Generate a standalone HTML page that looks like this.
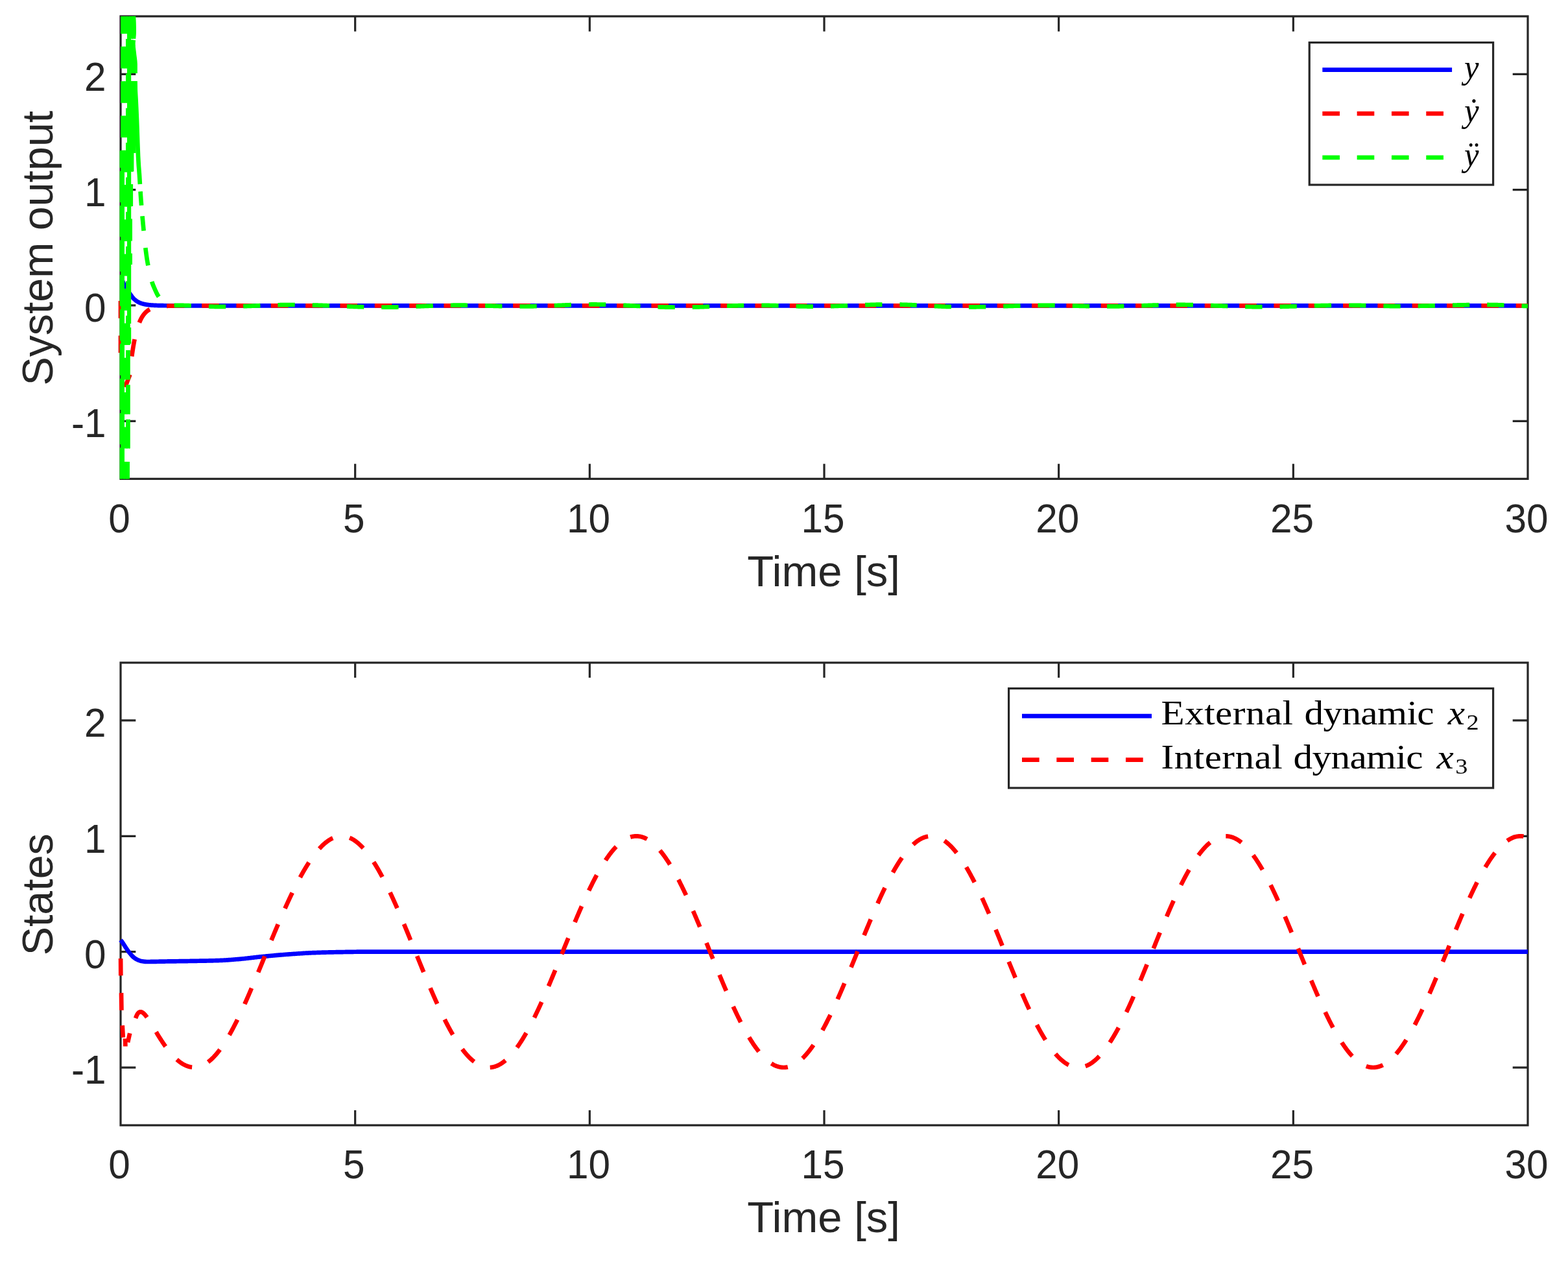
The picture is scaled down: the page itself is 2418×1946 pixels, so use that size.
<!DOCTYPE html>
<html lang="en"><head><meta charset="utf-8"><title>System output and states</title>
<style>html,body{margin:0;padding:0;background:#fff;}body{width:2418px;height:1946px;}svg{display:block;}text{font-family:"Liberation Sans",sans-serif;fill:#262626;}.tk{font-size:62.3px;}.lb{font-size:67px;}.yl{font-size:66.3px;}.lg{font-family:"Liberation Serif",serif;fill:#000;}.ax{fill:none;stroke:#262626;stroke-width:3.20;}.cv{fill:none;stroke-width:6.70;stroke-linejoin:round;}.b{stroke:#0000ff;}.r{stroke:#ff0000;}.g{stroke:#00ff00;}</style></head><body>
<svg width="2418" height="1946" viewBox="0 0 2418 1946" role="img" aria-label="System output and states versus time">
<rect x="0" y="0" width="2418" height="1946" fill="#fff"/>
<path class="ax" d="M186.00,25.15 H2356.00 V738.45 H186.00 Z M547.67,738.45 v-23.30 M547.67,25.15 v23.30 M909.33,738.45 v-23.30 M909.33,25.15 v23.30 M1271.00,738.45 v-23.30 M1271.00,25.15 v23.30 M1632.67,738.45 v-23.30 M1632.67,25.15 v23.30 M1994.33,738.45 v-23.30 M1994.33,25.15 v23.30 M186.00,649.29 h23.30 M2356.00,649.29 h-23.30 M186.00,470.96 h23.30 M2356.00,470.96 h-23.30 M186.00,292.64 h23.30 M2356.00,292.64 h-23.30 M186.00,114.31 h23.30 M2356.00,114.31 h-23.30"/>
<path class="ax" d="M186.00,1021.80 H2356.00 V1735.20 H186.00 Z M547.67,1735.20 v-23.30 M547.67,1021.80 v23.30 M909.33,1735.20 v-23.30 M909.33,1021.80 v23.30 M1271.00,1735.20 v-23.30 M1271.00,1021.80 v23.30 M1632.67,1735.20 v-23.30 M1632.67,1021.80 v23.30 M1994.33,1735.20 v-23.30 M1994.33,1021.80 v23.30 M186.00,1646.03 h23.30 M2356.00,1646.03 h-23.30 M186.00,1467.67 h23.30 M2356.00,1467.67 h-23.30 M186.00,1289.33 h23.30 M2356.00,1289.33 h-23.30 M186.00,1110.97 h23.30 M2356.00,1110.97 h-23.30"/>
<path class="cv b" d="M187.68,429.68 L188.23,431.18 L188.79,432.64 L189.35,434.05 L189.91,435.43 L190.47,436.74 L191.03,438.01 L191.59,439.21 L192.15,440.34 L192.70,441.41 L193.26,442.44 L193.82,443.42 L194.38,444.38 L194.94,445.30 L195.50,446.19 L196.06,447.06 L196.62,447.90 L197.17,448.72 L197.73,449.52 L198.29,450.31 L198.85,451.07 L199.41,451.83 L199.97,452.57 L200.53,453.31 L201.09,454.04 L201.64,454.77 L202.20,455.49 L202.63,456.12 L203.06,456.73 L203.49,457.32 L203.92,457.88 L204.35,458.41 L204.78,458.93 L205.21,459.42 L205.64,459.90 L206.07,460.36 L206.50,460.80 L206.93,461.22 L207.36,461.62 L207.79,462.01 L208.22,462.38 L208.65,462.74 L209.08,463.08 L209.51,463.41 L209.94,463.73 L210.37,464.04 L210.80,464.33 L211.23,464.61 L211.65,464.88 L212.08,465.14 L212.51,465.38 L212.94,465.62 L213.37,465.85 L213.80,466.07 L214.23,466.28 L214.66,466.48 L215.09,466.68 L215.52,466.87 L215.95,467.05 L216.38,467.22 L216.81,467.38 L217.24,467.54 L217.67,467.69 L218.10,467.84 L218.53,467.98 L218.96,468.12 L219.39,468.24 L219.82,468.37 L220.25,468.49 L220.68,468.60 L221.11,468.71 L221.54,468.82 L221.97,468.92 L222.40,469.02 L222.83,469.11 L223.26,469.20 L223.68,469.29 L224.11,469.37 L224.54,469.45 L224.97,469.53 L225.40,469.60 L225.83,469.67 L226.26,469.74 L226.69,469.80 L227.12,469.86 L227.55,469.92 L227.98,469.98 L228.41,470.04 L228.84,470.09 L229.27,470.14 L229.70,470.19 L230.13,470.23 L230.56,470.28 L230.99,470.32 L231.42,470.36 L231.85,470.40 L232.28,470.44 L232.71,470.48 L233.14,470.51 L233.57,470.55 L234.00,470.58 L234.43,470.61 L234.86,470.64 L235.29,470.67 L235.72,470.70 L236.14,470.72 L236.57,470.75 L237.00,470.77 L237.43,470.80 L237.86,470.82 L238.29,470.84 L238.72,470.86 L239.15,470.88 L239.58,470.90 L240.01,470.92 L240.44,470.94 L240.87,470.95 L241.30,470.97 L241.73,470.99 L242.16,471.00 L242.59,471.02 L243.02,471.03 L243.45,471.04 L243.88,471.06 L244.31,471.07 L244.74,471.08 L245.17,471.09 L245.60,471.10 L246.03,471.11 L246.46,471.12 L246.89,471.13 L247.32,471.14 L247.75,471.15 L248.17,471.16 L248.60,471.17 L249.03,471.17 L249.46,471.18 L249.89,471.19 L250.32,471.20 L250.75,471.20 L251.18,471.21 L251.61,471.22 L252.04,471.22 L252.47,471.23 L252.90,471.23 L253.33,471.24 L253.76,471.24 L254.19,471.25 L254.62,471.25 L255.05,471.26 L255.48,471.26 L255.91,471.26 L256.34,471.27 L256.77,471.27 L257.20,471.28 L257.63,471.28 L258.06,471.28 L258.49,471.29 L258.92,471.29 L259.35,471.29 L259.78,471.29 L260.20,471.30 L260.63,471.30 L261.06,471.30 L261.49,471.30 L261.92,471.31 L262.35,471.31 L262.78,471.31 L263.21,471.31 L263.64,471.32 L264.07,471.32 L264.50,471.32 L264.93,471.32 L265.36,471.32 L265.79,471.32 L266.22,471.33 L266.65,471.33 L267.08,471.33 L267.51,471.33 L267.94,471.33 L268.37,471.33 L268.80,471.33 L269.23,471.33 L269.66,471.34 L270.09,471.34 L270.52,471.34 L270.95,471.34 L271.38,471.34 L271.81,471.34 L272.23,471.34 L272.66,471.34 L273.09,471.34 L273.52,471.34 L273.95,471.34 L274.38,471.35 L274.81,471.35 L275.24,471.35 L275.67,471.35 L276.10,471.35 L276.53,471.35 L276.96,471.35 L277.39,471.35 L277.82,471.35 L278.25,471.35 L278.68,471.35 L279.11,471.35 L279.54,471.35 L279.97,471.35 L280.40,471.35 L280.83,471.35 L281.26,471.35 L281.69,471.35 L282.12,471.35 L282.55,471.35 L282.98,471.35 L283.41,471.36 L283.84,471.36 L284.26,471.36 L284.69,471.36 L285.12,471.36 L285.55,471.36 L285.98,471.36 L286.41,471.36 L286.84,471.36 L287.27,471.36 L287.70,471.36 L288.13,471.36 L288.56,471.36 L288.99,471.36 L289.42,471.36 L289.85,471.36 L290.28,471.36 L290.71,471.36 L291.14,471.36 L291.57,471.36 L292.00,471.36 L292.43,471.36 L292.86,471.36 L293.29,471.36 L293.72,471.36 L294.15,471.36 L294.58,471.36 L295.01,471.36 L295.44,471.36 L295.87,471.36 L296.30,471.36 L296.72,471.36 L297.15,471.36 L297.58,471.36 L298.01,471.36 L298.44,471.36 L298.87,471.36 L299.30,471.36 L299.73,471.36 L300.16,471.36 L300.59,471.36 L301.02,471.36 L301.45,471.36 L301.88,471.36 L302.31,471.36 L302.74,471.36 L303.17,471.36 L303.60,471.36 L304.03,471.36 L304.46,471.36 L304.89,471.36 L305.32,471.36 L305.75,471.36 L306.18,471.36 L306.61,471.36 L307.04,471.36 L307.47,471.36 L307.90,471.36 L308.33,471.36 L308.75,471.36 L309.18,471.36 L309.61,471.36 L310.04,471.36 L310.47,471.36 L310.90,471.36 L311.33,471.36 L311.76,471.36 L312.19,471.36 L312.62,471.36 L313.05,471.36 L313.48,471.36 L313.91,471.36 L314.34,471.36 L314.77,471.36 L315.20,471.36 L315.63,471.36 L316.06,471.36 L316.49,471.36 L316.92,471.36 L317.35,471.36 L317.78,471.36 L318.21,471.36 L318.64,471.36 L319.07,471.36 L319.50,471.36 L319.93,471.36 L320.36,471.36 L320.78,471.36 L321.21,471.36 L321.64,471.36 L322.07,471.36 L322.50,471.36 L322.93,471.36 L323.36,471.36 L323.79,471.36 L324.22,471.36 L324.65,471.36 L325.08,471.36 L325.51,471.36 L325.94,471.36 L326.37,471.36 L326.80,471.36 L327.23,471.36 L327.66,471.36 L328.09,471.36 L328.52,471.36 L328.95,471.36 L329.38,471.36 L329.81,471.36 L330.24,471.36 L330.67,471.36 L2356.00,471.36"/>
<path class="cv r" d="M186,464.1 V490.75 M186,517.4 V544.05"/>
<path class="cv r" d="M193,597 L200.4,577.5"/>
<path class="cv r" stroke-dasharray="26.665 26.665" d="M203.29,549.43 L203.61,547.10 L203.93,544.85 L204.25,542.66 L204.56,540.54 L204.88,538.48 L205.20,536.48 L205.52,534.54 L205.84,532.66 L206.16,530.83 L206.48,529.06 L206.80,527.34 L207.12,525.68 L207.44,524.06 L207.76,522.49 L208.08,520.97 L208.40,519.49 L208.71,518.06 L209.03,516.67 L209.35,515.32 L209.67,514.01 L209.99,512.74 L210.31,511.51 L210.63,510.31 L210.95,509.15 L211.27,508.03 L211.59,506.94 L211.91,505.88 L212.23,504.85 L212.55,503.85 L212.87,502.88 L213.18,501.95 L213.50,501.03 L213.82,500.15 L214.14,499.29 L214.46,498.46 L214.78,497.65 L215.10,496.87 L215.42,496.11 L215.74,495.38 L216.06,494.66 L216.38,493.97 L216.70,493.29 L217.02,492.64 L217.33,492.01 L217.65,491.39 L217.97,490.80 L218.29,490.22 L218.61,489.66 L218.93,489.11 L219.25,488.58 L219.57,488.07 L219.89,487.57 L220.21,487.09 L220.53,486.62 L220.85,486.17 L221.17,485.73 L221.48,485.30 L221.80,484.88 L222.12,484.48 L222.44,484.09 L222.76,483.71 L223.08,483.34 L223.40,482.99 L223.72,482.64 L224.04,482.30 L224.36,481.98 L224.68,481.66 L225.00,481.36 L225.32,481.06 L225.63,480.77 L225.95,480.49 L226.27,480.22 L226.59,479.95 L226.91,479.70 L227.23,479.45 L227.55,479.21 L227.87,478.98 L228.19,478.75 L228.51,478.53 L228.83,478.32 L229.15,478.11 L229.47,477.91 L229.79,477.71 L230.10,477.52 L230.42,477.34 L230.74,477.16 L231.06,476.99 L231.38,476.82 L231.70,476.66 L232.02,476.50 L232.34,476.35 L232.66,476.20 L232.98,476.06 L233.30,475.92 L233.62,475.78 L233.94,475.65 L234.25,475.52 L234.57,475.40 L234.89,475.28 L235.21,475.16 L235.53,475.05 L235.85,474.94 L236.17,474.83 L236.49,474.73 L236.81,474.63 L237.13,474.53 L237.45,474.44 L237.77,474.34 L238.09,474.26 L238.40,474.17 L238.72,474.09 L239.04,474.01 L239.36,473.93 L239.68,473.85 L240.00,473.78 L240.32,473.70 L240.64,473.63 L240.96,473.57 L241.28,473.50 L241.60,473.44 L241.92,473.38 L242.24,473.32 L242.55,473.26 L242.87,473.20 L243.19,473.15 L243.51,473.09 L243.83,473.04 L244.15,472.99 L244.47,472.94 L244.79,472.90 L245.11,472.85 L245.43,472.81 L245.75,472.76 L246.07,472.72 L246.39,472.68 L246.71,472.64 L247.02,472.60 L247.34,472.57 L247.66,472.53 L247.98,472.50 L248.30,472.46 L248.62,472.43 L248.94,472.40 L249.26,472.37 L249.58,472.34 L249.90,472.31 L250.22,472.28 L250.54,472.25 L250.86,472.23 L251.17,472.20 L251.49,472.18 L251.81,472.15 L252.13,472.13 L252.45,472.10 L252.77,472.08 L253.09,472.06 L253.41,472.04 L253.73,472.02 L254.05,472.00 L254.37,471.98 L254.69,471.96 L255.01,471.95 L255.32,471.93 L255.64,471.91 L255.96,471.89 L256.28,471.88 L256.60,471.86 L256.92,471.85 L257.24,471.83 L257.56,471.82 L257.80,471.81"/>
<path class="cv r" stroke-dasharray="26.665 26.665" d="M257.80,471.81 L257.88,471.81 L258.20,471.79 L258.52,471.78 L258.84,471.77 L259.16,471.76 L259.47,471.74 L259.79,471.73 L260.11,471.72 L260.43,471.71 L260.75,471.70 L261.07,471.69 L261.39,471.68 L261.71,471.67 L262.03,471.66 L262.35,471.65 L262.67,471.64 L262.99,471.64 L263.31,471.63 L263.63,471.62 L263.94,471.61 L264.26,471.61 L264.58,471.60 L264.90,471.59 L265.22,471.58 L265.54,471.58 L265.86,471.57 L266.18,471.56 L266.50,471.56 L266.82,471.55 L267.14,471.55 L267.46,471.54 L267.78,471.54 L268.09,471.53 L268.41,471.53 L268.73,471.52 L269.05,471.52 L269.37,471.51 L269.69,471.51 L270.01,471.50 L270.33,471.50 L270.65,471.50 L270.97,471.49 L271.29,471.49 L271.61,471.48 L271.93,471.48 L272.24,471.48 L272.56,471.47 L272.88,471.47 L273.20,471.47 L273.52,471.46 L273.84,471.46 L274.16,471.46 L274.48,471.45 L274.80,471.45 L275.12,471.45 L275.44,471.45 L275.76,471.44 L276.08,471.44 L276.39,471.44 L276.71,471.44 L277.03,471.43 L277.35,471.43 L277.67,471.43 L277.99,471.43 L278.31,471.43 L278.63,471.42 L278.95,471.42 L279.27,471.42 L279.59,471.42 L279.91,471.42 L280.23,471.42 L280.55,471.41 L280.86,471.41 L281.18,471.41 L281.50,471.41 L281.82,471.41 L282.14,471.41 L282.46,471.41 L282.78,471.40 L283.10,471.40 L283.42,471.40 L283.74,471.40 L284.06,471.40 L284.38,471.40 L284.70,471.40 L285.01,471.40 L285.33,471.40 L285.65,471.39 L285.97,471.39 L286.29,471.39 L286.61,471.39 L286.93,471.39 L287.25,471.39 L287.57,471.39 L287.89,471.39 L288.21,471.39 L288.53,471.39 L288.85,471.39 L289.16,471.39 L289.48,471.38 L289.80,471.38 L290.12,471.38 L290.44,471.38 L290.76,471.38 L291.08,471.38 L291.40,471.38 L291.72,471.38 L292.04,471.38 L292.36,471.38 L292.68,471.38 L293.00,471.38 L293.31,471.38 L293.63,471.38 L293.95,471.38 L294.27,471.38 L294.59,471.38 L294.91,471.38 L295.23,471.38 L295.55,471.38 L295.87,471.37 L296.19,471.37 L296.51,471.37 L296.83,471.37 L297.15,471.37 L297.47,471.37 L297.78,471.37 L298.10,471.37 L298.42,471.37 L298.74,471.37 L299.06,471.37 L299.38,471.37 L299.70,471.37 L300.02,471.37 L300.34,471.37 L300.66,471.37 L300.98,471.37 L301.30,471.37 L301.62,471.37 L301.93,471.37 L302.25,471.37 L302.57,471.37 L302.89,471.37 L303.21,471.37 L303.53,471.37 L303.85,471.37 L304.17,471.37 L304.49,471.37 L304.81,471.37 L305.13,471.37 L305.45,471.37 L305.77,471.37 L306.08,471.37 L306.40,471.37 L306.72,471.37 L307.04,471.37 L307.36,471.37 L307.68,471.37 L308.00,471.37 L308.32,471.37 L308.64,471.37 L308.96,471.37 L309.28,471.37 L309.60,471.37 L309.92,471.37 L310.23,471.37 L310.55,471.37 L310.87,471.37 L311.19,471.37 L311.51,471.37 L311.83,471.37 L312.15,471.37 L312.47,471.37 L312.79,471.36 L313.11,471.36 L313.43,471.36 L313.75,471.36 L314.07,471.36 L314.39,471.36 L314.70,471.36 L315.02,471.36 L315.34,471.36 L315.66,471.36 L315.98,471.36 L316.30,471.36 L316.62,471.36 L316.94,471.36 L317.26,471.36 L317.58,471.36 L317.90,471.36 L318.22,471.36 L318.54,471.36 L318.85,471.36 L319.17,471.36 L319.49,471.36 L319.81,471.36 L320.13,471.36 L320.45,471.36 L320.77,471.36 L321.09,471.36 L321.41,471.36 L321.73,471.36 L322.05,471.36 L322.37,471.36 L322.69,471.36 L323.00,471.36 L323.32,471.36 L323.64,471.36 L323.96,471.36 L324.28,471.36 L324.60,471.36 L324.92,471.36 L325.24,471.36 L325.56,471.36 L325.88,471.36 L326.20,471.36 L326.52,471.36 L326.84,471.36 L327.15,471.36 L327.47,471.36 L327.79,471.36 L328.11,471.36 L328.43,471.36 L328.75,471.36 L329.07,471.36 L329.39,471.36 L329.71,471.36 L330.03,471.36 L330.35,471.36 L330.67,471.36 L372.00,471.36 L413.33,471.36 L454.67,471.36 L496.00,471.36 L537.33,471.36 L578.67,471.36 L620.00,471.36 L661.33,471.36 L702.67,471.36 L744.00,471.36 L785.33,471.36 L826.67,471.36 L868.00,471.36 L909.33,471.36 L950.67,471.36 L992.00,471.36 L1033.33,471.36 L1074.67,471.36 L1116.00,471.36 L1157.33,471.36 L1198.67,471.36 L1240.00,471.36 L1281.33,471.36 L1322.67,471.36 L1364.00,471.36 L1405.33,471.36 L1446.67,471.36 L1488.00,471.36 L1529.33,471.36 L1570.67,471.36 L1612.00,471.36 L1653.33,471.36 L1694.67,471.36 L1736.00,471.36 L1777.33,471.36 L1818.67,471.36 L1860.00,471.36 L1901.33,471.36 L1942.67,471.36 L1984.00,471.36 L2025.33,471.36 L2066.67,471.36 L2108.00,471.36 L2149.33,471.36 L2190.67,471.36 L2232.00,471.36 L2273.33,471.36 L2314.67,471.36 L2356.00,471.36"/>
<path class="g" fill="none" stroke-width="2.40" stroke-dasharray="26.40 5.00 48.33 5.00 48.33 5.00 48.33 5.00 48.33 5.00 48.33 5.00 48.33 5.00 48.33 5.00 48.33 5.00 48.11 0.01" d="M185.80,232.30 V738.45"/>
<path class="g" fill="none" stroke-width="5.80" stroke-dasharray="26.95 19.70 33.63 19.70 33.63 19.70 33.63 19.70 506.66 0.01" d="M189.10,25.15 V738.45"/>
<path class="g" fill="none" stroke-width="4.00" stroke-dasharray="26.95 19.70 33.63 19.70 33.63 19.70 33.63 19.70 33.63 19.70 33.63 19.70 33.63 19.70 33.63 19.70 33.63 19.70 33.63 19.70 33.63 19.70 33.63 19.70 33.07 20.40 26.55 0.01" d="M193.00,25.15 V738.45"/>
<path class="g" fill="none" stroke-width="3.00" stroke-dasharray="26.95 8.00 45.33 8.00 45.33 8.00 45.33 8.00 45.33 8.00 45.33 8.00 45.33 8.00 45.33 8.00 45.33 8.00 45.33 8.00 45.33 8.00 45.33 8.00 44.77 20.40 26.55 0.01" d="M195.50,25.15 V738.45"/>
<path class="g" fill="none" stroke-width="4.00" stroke-dasharray="506.92 8.00 45.33 8.00 45.33 8.00 44.77 20.40 26.55 0.01" d="M198.00,25.15 V738.45"/>
<path class="g" fill="none" stroke-width="1.80" stroke-dasharray="506.92 8.00 45.33 8.00 45.33 8.00 44.77 20.40 0.10 0.01" d="M199.90,25.15 V712.00"/>
<path class="g" fill="none" stroke-width="2.20" stroke-dasharray="473.85 6.00 25.00 0.01" d="M201.10,25.15 V530.00"/>
<path class="g" fill="none" stroke-width="3.00" stroke-dasharray="34.55 2.10 51.20 12.00 139.82 19.30 34.03 19.30 34.03 19.30 17.22 0.01" d="M202.50,25.15 V408.00"/>
<path class="g" fill="none" stroke-width="2.10" stroke-dasharray="34.55 2.10 51.20 12.00 139.82 19.30 33.88 0.01" d="M204.05,25.15 V318.00"/>
<path class="g" fill="none" stroke-width="2.40" stroke-dasharray="34.55 2.10 51.20 12.00 139.50 0.01" d="M205.20,25.15 V264.50"/>
<path class="g" fill="none" stroke-width="3.60" d="M207.80,125.00 V236.00"/>
<path class="cv g" style="stroke-linejoin:miter" d="M205.80,25.00 L206.06,28.15 L206.25,31.31 L206.40,34.46 L206.49,37.62 L206.55,40.77 L206.58,43.93 L206.60,47.08 L206.60,50.24 L206.48,53.39 L206.21,56.55 L205.87,59.70 M205.66,61.80 L205.33,66.45 L205.42,71.11 L205.90,75.76 L206.51,80.42 L207.03,85.07 L207.63,89.73 L208.19,94.38 L208.49,99.04 L208.50,103.69 L208.50,108.35 L208.50,113.00 M208.50,125.00 L208.74,139.45 L209.58,153.91 L210.28,168.36 L210.91,182.82 L211.46,197.27 L211.93,211.73 L212.45,226.18 L213.03,240.64 L213.83,255.09 L214.97,269.55 L215.88,284.00 M216.56,295.30 L216.68,297.25 L216.80,299.19 L216.93,301.14 L217.06,303.08 L217.20,305.03 L217.34,306.97 L217.49,308.92 L217.64,310.86 L217.79,312.81 L217.94,314.75 L218.09,316.70 M219.51,333.30 L219.70,335.35 L219.89,337.41 L220.08,339.46 L220.27,341.52 L220.46,343.57 L220.65,345.63 L220.85,347.68 L221.04,349.74 L221.23,351.79 L221.42,353.85 L221.61,355.90 M224.31,382.10 L224.61,384.58 L224.92,387.06 L225.25,389.55 L225.58,392.03 L225.93,394.51 L226.29,396.99 L226.67,399.47 L227.07,401.95 L227.49,404.44 L227.92,406.92 L228.38,409.40 M234.24,434.30 L234.90,436.42 L235.66,438.54 L236.49,440.65 L237.38,442.77 L238.32,444.89 L239.28,447.01 L240.24,449.13 L241.21,451.25 L242.25,453.36 L243.44,455.48 L244.84,457.60"/>
<path class="cv g" stroke-dasharray="26.300 27.000" d="M268.60,470.97 L270.34,470.94 L272.08,470.92 L273.82,470.90 L275.56,470.90 L277.30,470.91 L279.05,470.92 L280.79,470.94 L282.53,470.97 L284.27,471.00 L286.01,471.04 L287.75,471.09 L289.49,471.14 L291.23,471.20 L292.97,471.26 L294.71,471.32 L296.46,471.39 L298.20,471.46 L299.94,471.53 L301.68,471.61 L303.42,471.68 L305.16,471.76 L306.90,471.84 L308.64,471.92 L310.38,472.00 L312.12,472.08 L313.86,472.16 L315.61,472.24 L317.35,472.31 L319.09,472.39 L320.83,472.46 L322.57,472.52 L324.31,472.59 L326.05,472.65 L327.79,472.70 L329.53,472.75 L331.27,472.80 L333.02,472.84 L334.76,472.87 L336.50,472.90 L338.24,472.92 L339.98,472.93 L341.72,472.94 L343.46,472.95 L345.20,472.94 L346.94,472.94 L348.68,472.93 L350.42,472.91 L352.17,472.89 L353.91,472.86 L355.65,472.83 L357.39,472.80 L359.13,472.76 L360.87,472.72 L362.61,472.67 L364.35,472.62 L366.09,472.57 L367.83,472.52 L369.58,472.46 L371.32,472.40 L373.06,472.34 L374.80,472.28 L376.54,472.21 L378.28,472.15 L380.02,472.08 L381.76,472.01 L383.50,471.94 L385.24,471.87 L386.98,471.80 L388.73,471.72 L390.47,471.65 L392.21,471.58 L393.95,471.51 L395.69,471.44 L397.43,471.36 L399.17,471.29 L400.91,471.22 L402.65,471.15 L404.39,471.08 L406.14,471.01 L407.88,470.95 L409.62,470.88 L411.36,470.82 L413.10,470.75 L414.84,470.69 L416.58,470.63 L418.32,470.57 L420.06,470.52 L421.80,470.46 L423.54,470.41 L425.29,470.36 L427.03,470.32 L428.77,470.28 L430.51,470.23 L432.25,470.20 L433.99,470.16 L435.73,470.13 L437.47,470.10 L439.21,470.08 L440.95,470.06 L442.70,470.04 L444.44,470.03 L446.18,470.02 L447.92,470.01 L449.66,470.01 L451.40,470.01 L453.14,470.01 L454.88,470.02 L456.62,470.03 L458.36,470.05 L460.10,470.06 L461.85,470.08 L463.59,470.10 L465.33,470.13 L467.07,470.16 L468.81,470.19 L470.55,470.22 L472.29,470.25 L474.03,470.29 L475.77,470.33 L477.51,470.37 L479.26,470.41 L481.00,470.46 L482.74,470.51 L484.48,470.56 L486.22,470.61 L487.96,470.66 L489.70,470.72 L491.44,470.77 L493.18,470.83 L494.92,470.89 L496.66,470.95 L498.41,471.01 L500.15,471.07 L501.89,471.14 L503.63,471.20 L505.37,471.27 L507.11,471.33 L508.85,471.40 L510.59,471.47 L512.33,471.54 L514.07,471.61 L515.82,471.67 L517.56,471.74 L519.30,471.81 L521.04,471.88 L522.78,471.95 L524.52,472.02 L526.26,472.09 L528.00,472.16 L529.74,472.23 L531.48,472.30 L533.22,472.36 L534.97,472.43 L536.71,472.49 L538.45,472.56 L540.19,472.62 L541.93,472.69 L543.67,472.75 L545.41,472.81 L547.15,472.87 L548.89,472.93 L550.63,472.98 L552.37,473.04 L554.12,473.09 L555.86,473.15 L557.60,473.20 L559.34,473.24 L561.08,473.29 L562.82,473.34 L564.56,473.38 L566.30,473.42 L568.04,473.46 L569.78,473.49 L571.53,473.53 L573.27,473.56 L575.01,473.59 L576.75,473.62 L578.49,473.64 L580.23,473.66 L581.97,473.68 L583.71,473.70 L585.45,473.71 L587.19,473.72 L588.93,473.73 L590.68,473.74 L592.42,473.74 L594.16,473.74 L595.90,473.73 L597.64,473.72 L599.38,473.71 L601.12,473.70 L602.86,473.68 L604.60,473.66 L606.34,473.63 L608.09,473.60 L609.83,473.57 L611.57,473.53 L613.31,473.49 L615.05,473.45 L616.79,473.41 L618.53,473.36 L620.27,473.31 L622.01,473.26 L623.75,473.21 L625.49,473.15 L627.24,473.09 L628.98,473.03 L630.72,472.97 L632.46,472.91 L634.20,472.85 L635.94,472.78 L637.68,472.71 L639.42,472.65 L641.16,472.58 L642.90,472.51 L644.65,472.44 L646.39,472.37 L648.13,472.30 L649.87,472.23 L651.61,472.16 L653.35,472.09 L655.09,472.02 L656.83,471.95 L658.57,471.88 L660.31,471.81 L662.05,471.74 L663.80,471.68 L665.54,471.61 L667.28,471.55 L669.02,471.48 L670.76,471.42 L672.50,471.36 L674.24,471.30 L675.98,471.24 L677.72,471.19 L679.46,471.14 L681.21,471.08 L682.95,471.04 L684.69,470.99 L686.43,470.95 L688.17,470.90 L689.91,470.87 L691.65,470.83 L693.39,470.80 L695.13,470.77 L696.87,470.74 L698.61,470.72 L700.36,470.70 L702.10,470.69 L703.84,470.67 L705.58,470.67 L707.32,470.66 L709.06,470.66 L710.80,470.67 L712.54,470.68 L714.28,470.69 L716.02,470.70 L717.77,470.72 L719.51,470.74 L721.25,470.77 L722.99,470.80 L724.73,470.83 L726.47,470.86 L728.21,470.90 L729.95,470.94 L731.69,470.98 L733.43,471.02 L735.17,471.06 L736.92,471.11 L738.66,471.15 L740.40,471.20 L742.14,471.25 L743.88,471.30 L745.62,471.35 L747.36,471.40 L749.10,471.45 L750.84,471.50 L752.58,471.56 L754.33,471.61 L756.07,471.66 L757.81,471.71 L759.55,471.76 L761.29,471.81 L763.03,471.86 L764.77,471.91 L766.51,471.95 L768.25,472.00 L769.99,472.05 L771.73,472.09 L773.48,472.13 L775.22,472.17 L776.96,472.21 L778.70,472.25 L780.44,472.28 L782.18,472.31 L783.92,472.35 L785.66,472.37 L787.40,472.40 L789.14,472.43 L790.89,472.45 L792.63,472.47 L794.37,472.48 L796.11,472.50 L797.85,472.51 L799.59,472.52 L801.33,472.52 L803.07,472.52 L804.81,472.52 L806.55,472.51 L808.29,472.51 L810.04,472.49 L811.78,472.48 L813.52,472.46 L815.26,472.43 L817.00,472.41 L818.74,472.38 L820.48,472.34 L822.22,472.30 L823.96,472.26 L825.70,472.22 L827.45,472.17 L829.19,472.12 L830.93,472.07 L832.67,472.02 L834.41,471.96 L836.15,471.90 L837.89,471.84 L839.63,471.78 L841.37,471.72 L843.11,471.65 L844.85,471.58 L846.60,471.52 L848.34,471.45 L850.08,471.38 L851.82,471.31 L853.56,471.23 L855.30,471.16 L857.04,471.09 L858.78,471.02 L860.52,470.95 L862.26,470.87 L864.01,470.80 L865.75,470.73 L867.49,470.66 L869.23,470.59 L870.97,470.52 L872.71,470.45 L874.45,470.38 L876.19,470.31 L877.93,470.25 L879.67,470.19 L881.41,470.12 L883.16,470.06 L884.90,470.01 L886.64,469.95 L888.38,469.90 L890.12,469.85 L891.86,469.80 L893.60,469.75 L895.34,469.71 L897.08,469.67 L898.82,469.63 L900.57,469.59 L902.31,469.56 L904.05,469.54 L905.79,469.51 L907.53,469.49 L909.27,469.48 L911.01,469.46 L912.75,469.46 L914.49,469.45 L916.23,469.45 L917.97,469.46 L919.72,469.47 L921.46,469.48 L923.20,469.50 L924.94,469.53 L926.68,469.56 L928.42,469.59 L930.16,469.62 L931.90,469.67 L933.64,469.71 L935.38,469.76 L937.13,469.81 L938.87,469.86 L940.61,469.92 L942.35,469.98 L944.09,470.04 L945.83,470.11 L947.57,470.18 L949.31,470.25 L951.05,470.32 L952.79,470.39 L954.53,470.47 L956.28,470.55 L958.02,470.63 L959.76,470.71 L961.50,470.79 L963.24,470.88 L964.98,470.96 L966.72,471.05 L968.46,471.14 L970.20,471.22 L971.94,471.31 L973.69,471.40 L975.43,471.49 L977.17,471.57 L978.91,471.66 L980.65,471.75 L982.39,471.84 L984.13,471.92 L985.87,472.01 L987.61,472.10 L989.35,472.18 L991.09,472.26 L992.84,472.35 L994.58,472.43 L996.32,472.51 L998.06,472.59 L999.80,472.66 L1001.54,472.74 L1003.28,472.81 L1005.02,472.88 L1006.76,472.95 L1008.50,473.02 L1010.25,473.09 L1011.99,473.15 L1013.73,473.21 L1015.47,473.27 L1017.21,473.32 L1018.95,473.37 L1020.69,473.42 L1022.43,473.47 L1024.17,473.51 L1025.91,473.55 L1027.65,473.59 L1029.40,473.62 L1031.14,473.65 L1032.88,473.67 L1034.62,473.69 L1036.36,473.71 L1038.10,473.73 L1039.84,473.74 L1041.58,473.75 L1043.32,473.75 L1045.06,473.75 L1046.81,473.75 L1048.55,473.75 L1050.29,473.74 L1052.03,473.73 L1053.77,473.72 L1055.51,473.71 L1057.25,473.69 L1058.99,473.67 L1060.73,473.65 L1062.47,473.62 L1064.21,473.59 L1065.96,473.56 L1067.70,473.53 L1069.44,473.49 L1071.18,473.45 L1072.92,473.41 L1074.66,473.37 L1076.40,473.32 L1078.14,473.28 L1079.88,473.23 L1081.62,473.17 L1083.36,473.12 L1085.11,473.06 L1086.85,473.01 L1088.59,472.95 L1090.33,472.89 L1092.07,472.83 L1093.81,472.77 L1095.55,472.70 L1097.29,472.64 L1099.03,472.57 L1100.77,472.51 L1102.52,472.44 L1104.26,472.38 L1106.00,472.31 L1107.74,472.24 L1109.48,472.18 L1111.22,472.11 L1112.96,472.05 L1114.70,471.98 L1116.44,471.92 L1118.18,471.85 L1119.92,471.79 L1121.67,471.73 L1123.41,471.67 L1125.15,471.61 L1126.89,471.55 L1128.63,471.49 L1130.37,471.44 L1132.11,471.38 L1133.85,471.33 L1135.59,471.28 L1137.33,471.24 L1139.08,471.19 L1140.82,471.15 L1142.56,471.11 L1144.30,471.07 L1146.04,471.03 L1147.78,471.00 L1149.52,470.97 L1151.26,470.94 L1153.00,470.91 L1154.74,470.89 L1156.48,470.87 L1158.23,470.85 L1159.97,470.84 L1161.71,470.82 L1163.45,470.81 L1165.19,470.81 L1166.93,470.80 L1168.67,470.80 L1170.41,470.80 L1172.15,470.81 L1173.89,470.81 L1175.64,470.82 L1177.38,470.84 L1179.12,470.85 L1180.86,470.88 L1182.60,470.90 L1184.34,470.93 L1186.08,470.96 L1187.82,470.99 L1189.56,471.03 L1191.30,471.07 L1193.04,471.11 L1194.79,471.16 L1196.53,471.21 L1198.27,471.26 L1200.01,471.31 L1201.75,471.36 L1203.49,471.42 L1205.23,471.47 L1206.97,471.53 L1208.71,471.59 L1210.45,471.65 L1212.20,471.70 L1213.94,471.76 L1215.68,471.82 L1217.42,471.88 L1219.16,471.93 L1220.90,471.99 L1222.64,472.04 L1224.38,472.10 L1226.12,472.15 L1227.86,472.20 L1229.60,472.24 L1231.35,472.29 L1233.09,472.33 L1234.83,472.37 L1236.57,472.40 L1238.31,472.44 L1240.05,472.46 L1241.79,472.49 L1243.53,472.51 L1245.27,472.53 L1247.01,472.54 L1248.76,472.55 L1250.50,472.56 L1252.24,472.56 L1253.98,472.56 L1255.72,472.56 L1257.46,472.55 L1259.20,472.54 L1260.94,472.52 L1262.68,472.51 L1264.42,472.49 L1266.16,472.47 L1267.91,472.44 L1269.65,472.41 L1271.39,472.38 L1273.13,472.35 L1274.87,472.31 L1276.61,472.27 L1278.35,472.23 L1280.09,472.19 L1281.83,472.14 L1283.57,472.10 L1285.32,472.05 L1287.06,471.99 L1288.80,471.94 L1290.54,471.88 L1292.28,471.83 L1294.02,471.77 L1295.76,471.71 L1297.50,471.64 L1299.24,471.58 L1300.98,471.51 L1302.72,471.44 L1304.47,471.38 L1306.21,471.31 L1307.95,471.24 L1309.69,471.17 L1311.43,471.10 L1313.17,471.03 L1314.91,470.96 L1316.65,470.89 L1318.39,470.81 L1320.13,470.74 L1321.88,470.68 L1323.62,470.61 L1325.36,470.54 L1327.10,470.47 L1328.84,470.41 L1330.58,470.34 L1332.32,470.28 L1334.06,470.22 L1335.80,470.16 L1337.54,470.10 L1339.28,470.04 L1341.03,469.99 L1342.77,469.94 L1344.51,469.89 L1346.25,469.84 L1347.99,469.80 L1349.73,469.76 L1351.47,469.72 L1353.21,469.69 L1354.95,469.66 L1356.69,469.63 L1358.44,469.60 L1360.18,469.58 L1361.92,469.56 L1363.66,469.54 L1365.40,469.53 L1367.14,469.52 L1368.88,469.51 L1370.62,469.51 L1372.36,469.51 L1374.10,469.51 L1375.84,469.52 L1377.59,469.53 L1379.33,469.55 L1381.07,469.56 L1382.81,469.58 L1384.55,469.61 L1386.29,469.64 L1388.03,469.67 L1389.77,469.71 L1391.51,469.75 L1393.25,469.79 L1395.00,469.84 L1396.74,469.89 L1398.48,469.94 L1400.22,470.00 L1401.96,470.07 L1403.70,470.13 L1405.44,470.20 L1407.18,470.28 L1408.92,470.35 L1410.66,470.43 L1412.40,470.51 L1414.15,470.60 L1415.89,470.68 L1417.63,470.77 L1419.37,470.86 L1421.11,470.95 L1422.85,471.04 L1424.59,471.14 L1426.33,471.23 L1428.07,471.32 L1429.81,471.41 L1431.56,471.51 L1433.30,471.60 L1435.04,471.69 L1436.78,471.78 L1438.52,471.87 L1440.26,471.96 L1442.00,472.05 L1443.74,472.14 L1445.48,472.22 L1447.22,472.30 L1448.96,472.38 L1450.71,472.46 L1452.45,472.53 L1454.19,472.60 L1455.93,472.67 L1457.67,472.73 L1459.41,472.79 L1461.15,472.85 L1462.89,472.90 L1464.63,472.95 L1466.37,473.00 L1468.12,473.04 L1469.86,473.08 L1471.60,473.12 L1473.34,473.16 L1475.08,473.19 L1476.82,473.22 L1478.56,473.24 L1480.30,473.27 L1482.04,473.29 L1483.78,473.30 L1485.52,473.32 L1487.27,473.33 L1489.01,473.34 L1490.75,473.34 L1492.49,473.34 L1494.23,473.34 L1495.97,473.34 L1497.71,473.34 L1499.45,473.33 L1501.19,473.32 L1502.93,473.30 L1504.68,473.29 L1506.42,473.27 L1508.16,473.25 L1509.90,473.22 L1511.64,473.19 L1513.38,473.17 L1515.12,473.13 L1516.86,473.10 L1518.60,473.06 L1520.34,473.03 L1522.08,472.99 L1523.83,472.95 L1525.57,472.90 L1527.31,472.86 L1529.05,472.81 L1530.79,472.77 L1532.53,472.72 L1534.27,472.67 L1536.01,472.62 L1537.75,472.57 L1539.49,472.52 L1541.24,472.46 L1542.98,472.41 L1544.72,472.35 L1546.46,472.30 L1548.20,472.25 L1549.94,472.19 L1551.68,472.14 L1553.42,472.08 L1555.16,472.02 L1556.90,471.97 L1558.64,471.92 L1560.39,471.86 L1562.13,471.81 L1563.87,471.75 L1565.61,471.70 L1567.35,471.65 L1569.09,471.60 L1570.83,471.55 L1572.57,471.50 L1574.31,471.45 L1576.05,471.40 L1577.79,471.36 L1579.54,471.31 L1581.28,471.27 L1583.02,471.23 L1584.76,471.19 L1586.50,471.15 L1588.24,471.12 L1589.98,471.08 L1591.72,471.05 L1593.46,471.02 L1595.20,471.00 L1596.95,470.97 L1598.69,470.95 L1600.43,470.93 L1602.17,470.91 L1603.91,470.89 L1605.65,470.88 L1607.39,470.87 L1609.13,470.87 L1610.87,470.86 L1612.61,470.86 L1614.35,470.86 L1616.10,470.87 L1617.84,470.88 L1619.58,470.89 L1621.32,470.90 L1623.06,470.92 L1624.80,470.94 L1626.54,470.96 L1628.28,470.99 L1630.02,471.02 L1631.76,471.04 L1633.51,471.08 L1635.25,471.11 L1636.99,471.14 L1638.73,471.18 L1640.47,471.21 L1642.21,471.25 L1643.95,471.29 L1645.69,471.33 L1647.43,471.37 L1649.17,471.42 L1650.91,471.46 L1652.66,471.50 L1654.40,471.54 L1656.14,471.59 L1657.88,471.63 L1659.62,471.67 L1661.36,471.72 L1663.10,471.76 L1664.84,471.80 L1666.58,471.84 L1668.32,471.88 L1670.07,471.92 L1671.81,471.96 L1673.55,472.00 L1675.29,472.04 L1677.03,472.07 L1678.77,472.11 L1680.51,472.14 L1682.25,472.17 L1683.99,472.20 L1685.73,472.23 L1687.47,472.26 L1689.22,472.29 L1690.96,472.31 L1692.70,472.33 L1694.44,472.35 L1696.18,472.37 L1697.92,472.38 L1699.66,472.40 L1701.40,472.41 L1703.14,472.42 L1704.88,472.42 L1706.63,472.43 L1708.37,472.43 L1710.11,472.43 L1711.85,472.42 L1713.59,472.42 L1715.33,472.41 L1717.07,472.39 L1718.81,472.38 L1720.55,472.36 L1722.29,472.34 L1724.03,472.31 L1725.78,472.28 L1727.52,472.25 L1729.26,472.22 L1731.00,472.18 L1732.74,472.14 L1734.48,472.10 L1736.22,472.06 L1737.96,472.02 L1739.70,471.97 L1741.44,471.92 L1743.19,471.87 L1744.93,471.82 L1746.67,471.76 L1748.41,471.71 L1750.15,471.66 L1751.89,471.60 L1753.63,471.54 L1755.37,471.48 L1757.11,471.43 L1758.85,471.37 L1760.59,471.31 L1762.34,471.25 L1764.08,471.19 L1765.82,471.13 L1767.56,471.07 L1769.30,471.01 L1771.04,470.95 L1772.78,470.89 L1774.52,470.84 L1776.26,470.78 L1778.00,470.72 L1779.75,470.67 L1781.49,470.62 L1783.23,470.56 L1784.97,470.51 L1786.71,470.46 L1788.45,470.42 L1790.19,470.37 L1791.93,470.33 L1793.67,470.28 L1795.41,470.24 L1797.15,470.20 L1798.90,470.17 L1800.64,470.13 L1802.38,470.10 L1804.12,470.07 L1805.86,470.05 L1807.60,470.02 L1809.34,470.00 L1811.08,469.98 L1812.82,469.97 L1814.56,469.95 L1816.31,469.95 L1818.05,469.94 L1819.79,469.94 L1821.53,469.94 L1823.27,469.94 L1825.01,469.95 L1826.75,469.96 L1828.49,469.98 L1830.23,470.00 L1831.97,470.02 L1833.71,470.05 L1835.46,470.08 L1837.20,470.12 L1838.94,470.15 L1840.68,470.19 L1842.42,470.24 L1844.16,470.28 L1845.90,470.33 L1847.64,470.38 L1849.38,470.43 L1851.12,470.48 L1852.87,470.54 L1854.61,470.60 L1856.35,470.66 L1858.09,470.72 L1859.83,470.78 L1861.57,470.85 L1863.31,470.91 L1865.05,470.98 L1866.79,471.04 L1868.53,471.11 L1870.27,471.18 L1872.02,471.25 L1873.76,471.32 L1875.50,471.38 L1877.24,471.45 L1878.98,471.52 L1880.72,471.59 L1882.46,471.66 L1884.20,471.72 L1885.94,471.79 L1887.68,471.86 L1889.43,471.92 L1891.17,471.99 L1892.91,472.05 L1894.65,472.11 L1896.39,472.17 L1898.13,472.23 L1899.87,472.29 L1901.61,472.35 L1903.35,472.40 L1905.09,472.46 L1906.83,472.51 L1908.58,472.56 L1910.32,472.61 L1912.06,472.66 L1913.80,472.71 L1915.54,472.75 L1917.28,472.79 L1919.02,472.83 L1920.76,472.87 L1922.50,472.91 L1924.24,472.94 L1925.99,472.97 L1927.73,473.00 L1929.47,473.02 L1931.21,473.04 L1932.95,473.06 L1934.69,473.08 L1936.43,473.09 L1938.17,473.11 L1939.91,473.11 L1941.65,473.12 L1943.39,473.12 L1945.14,473.12 L1946.88,473.12 L1948.62,473.12 L1950.36,473.11 L1952.10,473.10 L1953.84,473.09 L1955.58,473.08 L1957.32,473.07 L1959.06,473.05 L1960.80,473.03 L1962.55,473.01 L1964.29,472.99 L1966.03,472.96 L1967.77,472.94 L1969.51,472.91 L1971.25,472.88 L1972.99,472.85 L1974.73,472.81 L1976.47,472.78 L1978.21,472.74 L1979.95,472.71 L1981.70,472.67 L1983.44,472.63 L1985.18,472.59 L1986.92,472.55 L1988.66,472.51 L1990.40,472.46 L1992.14,472.42 L1993.88,472.38 L1995.62,472.33 L1997.36,472.28 L1999.11,472.24 L2000.85,472.19 L2002.59,472.14 L2004.33,472.09 L2006.07,472.05 L2007.81,472.00 L2009.55,471.95 L2011.29,471.90 L2013.03,471.85 L2014.77,471.80 L2016.51,471.75 L2018.26,471.71 L2020.00,471.66 L2021.74,471.61 L2023.48,471.57 L2025.22,471.52 L2026.96,471.47 L2028.70,471.43 L2030.44,471.38 L2032.18,471.34 L2033.92,471.30 L2035.67,471.26 L2037.41,471.22 L2039.15,471.18 L2040.89,471.14 L2042.63,471.10 L2044.37,471.07 L2046.11,471.04 L2047.85,471.00 L2049.59,470.97 L2051.33,470.94 L2053.07,470.92 L2054.82,470.89 L2056.56,470.87 L2058.30,470.84 L2060.04,470.82 L2061.78,470.81 L2063.52,470.79 L2065.26,470.77 L2067.00,470.76 L2068.74,470.75 L2070.48,470.74 L2072.23,470.74 L2073.97,470.73 L2075.71,470.73 L2077.45,470.73 L2079.19,470.74 L2080.93,470.74 L2082.67,470.75 L2084.41,470.76 L2086.15,470.78 L2087.89,470.79 L2089.63,470.81 L2091.38,470.83 L2093.12,470.86 L2094.86,470.89 L2096.60,470.92 L2098.34,470.95 L2100.08,470.98 L2101.82,471.02 L2103.56,471.06 L2105.30,471.10 L2107.04,471.15 L2108.78,471.19 L2110.53,471.24 L2112.27,471.28 L2114.01,471.33 L2115.75,471.38 L2117.49,471.42 L2119.23,471.47 L2120.97,471.52 L2122.71,471.57 L2124.45,471.61 L2126.19,471.66 L2127.94,471.70 L2129.68,471.75 L2131.42,471.79 L2133.16,471.83 L2134.90,471.87 L2136.64,471.90 L2138.38,471.94 L2140.12,471.97 L2141.86,472.00 L2143.60,472.03 L2145.34,472.05 L2147.09,472.07 L2148.83,472.09 L2150.57,472.10 L2152.31,472.11 L2154.05,472.12 L2155.79,472.13 L2157.53,472.13 L2159.27,472.13 L2161.01,472.12 L2162.75,472.12 L2164.50,472.11 L2166.24,472.10 L2167.98,472.09 L2169.72,472.07 L2171.46,472.05 L2173.20,472.03 L2174.94,472.01 L2176.68,471.99 L2178.42,471.96 L2180.16,471.94 L2181.90,471.91 L2183.65,471.88 L2185.39,471.85 L2187.13,471.82 L2188.87,471.79 L2190.61,471.75 L2192.35,471.72 L2194.09,471.68 L2195.83,471.65 L2197.57,471.61 L2199.31,471.57 L2201.06,471.53 L2202.80,471.50 L2204.54,471.46 L2206.28,471.42 L2208.02,471.38 L2209.76,471.34 L2211.50,471.30 L2213.24,471.26 L2214.98,471.22 L2216.72,471.18 L2218.46,471.14 L2220.21,471.10 L2221.95,471.06 L2223.69,471.02 L2225.43,470.98 L2227.17,470.94 L2228.91,470.90 L2230.65,470.86 L2232.39,470.82 L2234.13,470.78 L2235.87,470.74 L2237.62,470.70 L2239.36,470.66 L2241.10,470.62 L2242.84,470.58 L2244.58,470.55 L2246.32,470.51 L2248.06,470.47 L2249.80,470.43 L2251.54,470.40 L2253.28,470.36 L2255.02,470.33 L2256.77,470.29 L2258.51,470.26 L2260.25,470.23 L2261.99,470.19 L2263.73,470.16 L2265.47,470.14 L2267.21,470.11 L2268.95,470.08 L2270.69,470.06 L2272.43,470.04 L2274.18,470.01 L2275.92,470.00 L2277.66,469.98 L2279.40,469.97 L2281.14,469.95 L2282.88,469.95 L2284.62,469.94 L2286.36,469.94 L2288.10,469.94 L2289.84,469.94 L2291.58,469.95 L2293.33,469.96 L2295.07,469.97 L2296.81,469.99 L2298.55,470.01 L2300.29,470.03 L2302.03,470.06 L2303.77,470.09 L2305.51,470.13 L2307.25,470.17 L2308.99,470.22 L2310.74,470.27 L2312.48,470.32 L2314.22,470.38 L2315.96,470.44 L2317.70,470.51 L2319.44,470.57 L2321.18,470.64 L2322.92,470.71 L2324.66,470.78 L2326.40,470.86 L2328.14,470.93 L2329.89,471.00 L2331.63,471.08 L2333.37,471.16 L2335.11,471.23 L2336.85,471.30 L2338.59,471.38 L2340.33,471.45 L2342.07,471.52 L2343.81,471.59 L2345.55,471.65 L2347.30,471.72 L2349.04,471.78 L2350.78,471.83 L2352.52,471.89 L2354.26,471.94 L2356.00,471.98"/>
<path class="cv b" d="M186.00,1449.48 L187.45,1451.31 L188.90,1453.28 L190.35,1455.41 L191.81,1457.73 L193.26,1460.04 L194.71,1462.24 L196.16,1464.38 L197.61,1466.42 L199.06,1468.39 L200.52,1470.23 L201.97,1471.97 L203.42,1473.63 L204.87,1475.11 L206.32,1476.35 L207.77,1477.47 L209.22,1478.47 L210.68,1479.31 L212.13,1479.99 L213.58,1480.62 L215.03,1481.18 L216.48,1481.65 L217.93,1482.01 L219.38,1482.25 L220.84,1482.47 L222.29,1482.67 L223.74,1482.83 L225.19,1482.95 L226.64,1483.01 L228.09,1483.01 L229.55,1483.00 L231.00,1482.99 L232.45,1482.97 L233.90,1482.95 L235.35,1482.92 L236.80,1482.89 L238.25,1482.86 L239.71,1482.83 L241.16,1482.80 L242.61,1482.77 L244.06,1482.74 L245.51,1482.72 L246.96,1482.69 L248.41,1482.66 L249.87,1482.63 L251.32,1482.61 L252.77,1482.58 L254.22,1482.55 L255.67,1482.52 L257.12,1482.50 L258.58,1482.47 L260.03,1482.45 L261.48,1482.43 L262.93,1482.40 L264.38,1482.38 L265.83,1482.36 L267.28,1482.34 L268.74,1482.32 L270.19,1482.30 L271.64,1482.28 L273.09,1482.26 L274.54,1482.24 L275.99,1482.22 L277.44,1482.20 L278.90,1482.18 L280.35,1482.16 L281.80,1482.14 L283.25,1482.12 L284.70,1482.10 L286.15,1482.08 L287.61,1482.05 L289.06,1482.03 L290.51,1482.01 L291.96,1481.99 L293.41,1481.96 L294.86,1481.94 L296.31,1481.91 L297.77,1481.89 L299.22,1481.86 L300.67,1481.84 L302.12,1481.82 L303.57,1481.79 L305.02,1481.77 L306.47,1481.74 L307.93,1481.72 L309.38,1481.70 L310.83,1481.67 L312.28,1481.64 L313.73,1481.62 L315.18,1481.59 L316.64,1481.56 L318.09,1481.54 L319.54,1481.51 L320.99,1481.48 L322.44,1481.45 L323.89,1481.41 L325.34,1481.38 L326.80,1481.35 L328.25,1481.31 L329.70,1481.27 L331.15,1481.23 L332.60,1481.19 L334.05,1481.15 L335.51,1481.10 L336.96,1481.06 L338.41,1481.01 L339.86,1480.95 L341.31,1480.89 L342.76,1480.82 L344.21,1480.74 L345.67,1480.66 L347.12,1480.57 L348.57,1480.48 L350.02,1480.39 L351.47,1480.29 L352.92,1480.18 L354.37,1480.08 L355.83,1479.97 L357.28,1479.86 L358.73,1479.74 L360.18,1479.63 L361.63,1479.51 L363.08,1479.39 L364.54,1479.28 L365.99,1479.16 L367.44,1479.04 L368.89,1478.92 L370.34,1478.79 L371.79,1478.65 L373.24,1478.51 L374.70,1478.36 L376.15,1478.21 L377.60,1478.06 L379.05,1477.90 L380.50,1477.74 L381.95,1477.58 L383.40,1477.42 L384.86,1477.25 L386.31,1477.08 L387.76,1476.91 L389.21,1476.74 L390.66,1476.57 L392.11,1476.40 L393.57,1476.24 L395.02,1476.07 L396.47,1475.91 L397.92,1475.74 L399.37,1475.59 L400.82,1475.43 L402.27,1475.28 L403.73,1475.13 L405.18,1474.99 L406.63,1474.85 L408.08,1474.71 L409.53,1474.56 L410.98,1474.42 L412.43,1474.29 L413.89,1474.15 L415.34,1474.01 L416.79,1473.87 L418.24,1473.74 L419.69,1473.60 L421.14,1473.47 L422.60,1473.34 L424.05,1473.20 L425.50,1473.08 L426.95,1472.95 L428.40,1472.82 L429.85,1472.70 L431.30,1472.58 L432.76,1472.46 L434.21,1472.34 L435.66,1472.22 L437.11,1472.11 L438.56,1472.00 L440.01,1471.89 L441.46,1471.78 L442.92,1471.68 L444.37,1471.57 L445.82,1471.46 L447.27,1471.35 L448.72,1471.25 L450.17,1471.14 L451.63,1471.03 L453.08,1470.93 L454.53,1470.82 L455.98,1470.72 L457.43,1470.62 L458.88,1470.52 L460.33,1470.42 L461.79,1470.32 L463.24,1470.23 L464.69,1470.13 L466.14,1470.04 L467.59,1469.95 L469.04,1469.87 L470.49,1469.78 L471.95,1469.70 L473.40,1469.62 L474.85,1469.54 L476.30,1469.47 L477.75,1469.40 L479.20,1469.33 L480.66,1469.26 L482.11,1469.20 L483.56,1469.15 L485.01,1469.09 L486.46,1469.04 L487.91,1468.99 L489.36,1468.94 L490.82,1468.89 L492.27,1468.85 L493.72,1468.80 L495.17,1468.76 L496.62,1468.72 L498.07,1468.68 L499.53,1468.64 L500.98,1468.60 L502.43,1468.56 L503.88,1468.52 L505.33,1468.49 L506.78,1468.45 L508.23,1468.42 L509.69,1468.39 L511.14,1468.36 L512.59,1468.33 L514.04,1468.30 L515.49,1468.27 L516.94,1468.24 L518.39,1468.22 L519.85,1468.19 L521.30,1468.16 L522.75,1468.14 L524.20,1468.11 L525.65,1468.08 L527.10,1468.06 L528.56,1468.03 L530.01,1468.00 L531.46,1467.98 L532.91,1467.95 L534.36,1467.93 L535.81,1467.90 L537.26,1467.88 L538.72,1467.86 L540.17,1467.83 L541.62,1467.81 L543.07,1467.79 L544.52,1467.78 L545.97,1467.76 L547.42,1467.74 L548.88,1467.73 L550.33,1467.71 L551.78,1467.70 L553.23,1467.69 L554.68,1467.69 L556.13,1467.68 L557.59,1467.68 L559.04,1467.68 L560.49,1467.67 L561.94,1467.67 L563.39,1467.67 L564.84,1467.67 L566.29,1467.67 L567.75,1467.67 L569.20,1467.67 L570.65,1467.67 L572.10,1467.67 L573.55,1467.67 L575.00,1467.67 L576.45,1467.67 L577.91,1467.67 L579.36,1467.67 L580.81,1467.67 L582.26,1467.67 L583.71,1467.67 L585.16,1467.67 L586.62,1467.67 L588.07,1467.67 L589.52,1467.67 L590.97,1467.67 L592.42,1467.67 L593.87,1467.67 L595.32,1467.67 L596.78,1467.67 L598.23,1467.67 L599.68,1467.67 L601.13,1467.67 L602.58,1467.67 L604.03,1467.67 L605.48,1467.67 L606.94,1467.67 L608.39,1467.67 L609.84,1467.67 L611.29,1467.67 L612.74,1467.67 L614.19,1467.67 L615.65,1467.67 L617.10,1467.67 L618.55,1467.67 L620.00,1467.67 L2356.00,1467.67"/>
<path class="cv r" style="stroke-linejoin:miter" d="M186.1,1478 L186.3,1504.4 M187,1531.1 L187.4,1557.8 M188.7,1581.2 L189.8,1599.7 M193.05,1601.4 L193.4,1613.5 M197.1,1607.3 L200.2,1593.3"/>
<path class="cv r" stroke-dasharray="26.665 26.665" d="M209.15,1570.13 L209.61,1568.76 L210.08,1567.51 L210.54,1566.39 L211.01,1565.38 L211.47,1564.49 L211.94,1563.69 L212.40,1562.99 L212.87,1562.38 L213.33,1561.86 L213.80,1561.42 L214.26,1561.05 L214.73,1560.76 L215.20,1560.54 L215.66,1560.38 L216.13,1560.29 L216.59,1560.25 L217.06,1560.27 L217.52,1560.33 L217.99,1560.45 L218.45,1560.61 L218.92,1560.82 L219.38,1561.07 L219.85,1561.35 L220.31,1561.67 L220.78,1562.02 L221.24,1562.41 L221.71,1562.83 L222.17,1563.27 L222.64,1563.74 L223.10,1564.24 L223.57,1564.75 L224.03,1565.29 L224.50,1565.85 L224.97,1566.43 L225.43,1567.03 L225.90,1567.65 L226.36,1568.28 L226.83,1568.92 L227.29,1569.58 L227.76,1570.25 L228.22,1570.93 L228.69,1571.62 L229.15,1572.32 L229.62,1573.03 L230.08,1573.75 L230.55,1574.48 L231.01,1575.21 L231.48,1575.95 L231.94,1576.70 L232.41,1577.45 L232.87,1578.21 L233.34,1578.97 L233.81,1579.73 L234.27,1580.50 L234.74,1581.26 L235.20,1582.04 L235.67,1582.81 L236.13,1583.58 L236.60,1584.36 L237.06,1585.14 L237.53,1585.91 L237.99,1586.69 L238.46,1587.47 L238.92,1588.25 L239.39,1589.02 L239.85,1589.80 L240.32,1590.57 L240.78,1591.34 L241.25,1592.11 L241.71,1592.88 L242.18,1593.65 L242.65,1594.41 L243.11,1595.17 L243.58,1595.93 L244.04,1596.69 L244.51,1597.44 L244.97,1598.19 L245.44,1598.94 L245.90,1599.68 L246.37,1600.42 L246.83,1601.16 L247.30,1601.89 L247.76,1602.62 L248.23,1603.34 L248.69,1604.06 L249.16,1604.78 L249.62,1605.49 L250.09,1606.20 L250.55,1606.90 L251.02,1607.60 L251.49,1608.29 L251.95,1608.98 L252.42,1609.66 L252.88,1610.34 L253.35,1611.01 L253.81,1611.68 L254.28,1612.34 L254.74,1613.00 L255.21,1613.65 L255.67,1614.30 L256.14,1614.94 L256.60,1615.57 L257.07,1616.20 L257.53,1616.83 L258.00,1617.45 L258.46,1618.06 L258.93,1618.67 L259.39,1619.27 L259.86,1619.86 L260.33,1620.45 L260.79,1621.03 L261.26,1621.61 L261.72,1622.18 L262.19,1622.75 L262.65,1623.31 L263.12,1623.86 L263.58,1624.41 L264.05,1624.95 L264.51,1625.48 L264.98,1626.01 L265.44,1626.53 L265.91,1627.04 L266.37,1627.55 L266.84,1628.05 L267.30,1628.55 L267.77,1629.04 L268.23,1629.52 L268.70,1629.99 L269.17,1630.46 L269.63,1630.93 L270.10,1631.38 L270.56,1631.83 L271.03,1632.27 L271.49,1632.71 L271.96,1633.14 L272.42,1633.56 L272.89,1633.97 L273.35,1634.38 L273.82,1634.78 L274.28,1635.18 L274.75,1635.57 L275.21,1635.95 L275.68,1636.32 L276.14,1636.69 L276.61,1637.05 L277.07,1637.40 L277.54,1637.75 L278.01,1638.08 L278.47,1638.42 L278.94,1638.74 L279.40,1639.06 L279.87,1639.37 L280.33,1639.67 L280.80,1639.97 L281.26,1640.26 L281.73,1640.54 L282.19,1640.81 L282.66,1641.08 L283.12,1641.34 L283.59,1641.59 L284.05,1641.84 L284.52,1642.08 L284.98,1642.31 L285.45,1642.53 L285.91,1642.75 L286.38,1642.96 L286.85,1643.16 L287.31,1643.35 L287.78,1643.54 L288.24,1643.72 L288.71,1643.89 L289.17,1644.06 L289.64,1644.22 L290.10,1644.37 L290.57,1644.51 L291.03,1644.65 L291.50,1644.77 L291.96,1644.89 L292.43,1645.01 L292.89,1645.11 L293.36,1645.21 L293.82,1645.30 L294.29,1645.39 L294.75,1645.46 L295.22,1645.53 L295.68,1645.59 L296.15,1645.64 L296.62,1645.69 L297.08,1645.73 L297.55,1645.76 L298.01,1645.78 L298.48,1645.80 L298.94,1645.81 L299.41,1645.81 L299.87,1645.80 L300.34,1645.79 L300.80,1645.77 L301.27,1645.74 L301.73,1645.70 L302.25,1645.65 L302.76,1645.59 L303.27,1645.52 L303.79,1645.45 L304.30,1645.36 L304.82,1645.27 L305.33,1645.16 L305.84,1645.05 L306.36,1644.92 L306.87,1644.79 L307.38,1644.65 L307.90,1644.50 L308.41,1644.34 L308.93,1644.17 L309.44,1643.99 L309.95,1643.81 L310.47,1643.61 L310.98,1643.40 L311.49,1643.19 L312.01,1642.97 L312.52,1642.73 L313.03,1642.49 L313.55,1642.24 L314.06,1641.98 L314.58,1641.71 L315.09,1641.43 L315.60,1641.14 L316.12,1640.85 L316.63,1640.54 L317.14,1640.23 L317.66,1639.90 L318.17,1639.57 L318.69,1639.23 L319.20,1638.87 L319.71,1638.51 L320.23,1638.15 L320.74,1637.77 L321.25,1637.38 L321.77,1636.99 L322.28,1636.58 L322.79,1636.17 L323.31,1635.74 L323.82,1635.31 L324.34,1634.87 L324.85,1634.42 L325.36,1633.96 L325.88,1633.50 L326.39,1633.02 L326.90,1632.54 L327.42,1632.05 L327.93,1631.54 L328.45,1631.03 L328.96,1630.51 L329.47,1629.99 L329.99,1629.45 L330.50,1628.91 L331.01,1628.35 L331.53,1627.79 L332.04,1627.22 L332.56,1626.64 L333.07,1626.05 L333.58,1625.46 L334.10,1624.85 L334.61,1624.24 L335.12,1623.62 L335.64,1622.99 L336.15,1622.35 L336.66,1621.71 L337.18,1621.05 L337.69,1620.39 L338.21,1619.72 L338.72,1619.04 L339.23,1618.35 L339.75,1617.66 L340.26,1616.96 L340.77,1616.25 L341.29,1615.53 L341.80,1614.80 L342.32,1614.07 L342.83,1613.33 L343.34,1612.58 L343.86,1611.82 L344.37,1611.05 L344.88,1610.28 L345.40,1609.50 L345.91,1608.71 L346.42,1607.92 L346.94,1607.11 L347.45,1606.30 L347.97,1605.49 L348.48,1604.66 L348.99,1603.83 L349.51,1602.99 L350.02,1602.14 L350.53,1601.29 L351.05,1600.43 L351.56,1599.56 L352.08,1598.68 L352.59,1597.80 L353.10,1596.91 L353.62,1596.02 L354.13,1595.11 L354.64,1594.20 L355.16,1593.29 L355.67,1592.36 L356.19,1591.44 L356.70,1590.50 L357.21,1589.56 L357.73,1588.61 L358.24,1587.65 L358.75,1586.69 L359.27,1585.73 L359.78,1584.75 L360.29,1583.77 L360.81,1582.79 L361.32,1581.79 L361.84,1580.80 L362.35,1579.79 L362.86,1578.78 L363.38,1577.77 L363.89,1576.75 L364.40,1575.72 L364.92,1574.69 L365.43,1573.65 L365.95,1572.61 L366.46,1571.56 L366.97,1570.51 L367.49,1569.45 L368.00,1568.38 L368.51,1567.31 L369.03,1566.24 L369.54,1565.16 L370.05,1564.08 L370.57,1562.99 L371.08,1561.89 L371.60,1560.79 L372.11,1559.69 L372.62,1558.58 L373.14,1557.47 L373.65,1556.36 L374.16,1555.23 L374.68,1554.11 L375.19,1552.98 L375.71,1551.85 L376.22,1550.71 L376.73,1549.57 L377.25,1548.42 L377.76,1547.27 L378.27,1546.12 L378.79,1544.96 L379.30,1543.80 L379.81,1542.64 L380.33,1541.47 L380.84,1540.30 L381.36,1539.12 L381.87,1537.94 L382.38,1536.76 L382.90,1535.58 L383.41,1534.39 L383.92,1533.20 L384.44,1532.01 L384.95,1530.81 L385.47,1529.61 L385.98,1528.41 L386.49,1527.20 L387.01,1526.00 L387.52,1524.79 L388.03,1523.57 L388.55,1522.36 L389.06,1521.14 L389.58,1519.92 L390.09,1518.70 L390.60,1517.48 L391.12,1516.25 L391.63,1515.03 L392.14,1513.80 L392.66,1512.56 L393.17,1511.33 L393.68,1510.10 L394.20,1508.86 L394.71,1507.62 L395.23,1506.38 L395.74,1505.14 L396.25,1503.90 L396.77,1502.66 L397.28,1501.41 L397.79,1500.17 L398.31,1498.92 L398.82,1497.67 L399.34,1496.42 L399.85,1495.17 L400.36,1493.92 L400.88,1492.67 L401.39,1491.42 L401.90,1490.17 L402.42,1488.91 L402.93,1487.66 L403.44,1486.41 L403.96,1485.15 L404.47,1483.90 L404.99,1482.64 L405.50,1481.39 L406.01,1480.13 L406.53,1478.88 L407.04,1477.62 L407.55,1476.37 L408.07,1475.11 L408.58,1473.86 L409.10,1472.60 L409.61,1471.35 L410.12,1470.09 L410.64,1468.84 L411.15,1467.59 L411.66,1466.33 L412.18,1465.08 L412.69,1463.83 L413.21,1462.58 L413.72,1461.33 L414.23,1460.08 L414.75,1458.83 L415.26,1457.58 L415.77,1456.34 L416.29,1455.09 L416.80,1453.85 L417.31,1452.61 L417.83,1451.36 L418.34,1450.12 L418.86,1448.88 L419.37,1447.65 L419.88,1446.41 L420.40,1445.17 L420.91,1443.94 L421.42,1442.71 L421.94,1441.48 L422.45,1440.25 L422.97,1439.02 L423.48,1437.80 L423.99,1436.57 L424.51,1435.35 L425.02,1434.13 L425.53,1432.92 L426.05,1431.70 L426.56,1430.49 L427.07,1429.27 L427.59,1428.07 L428.10,1426.86 L428.62,1425.65 L429.13,1424.45 L429.64,1423.25 L430.16,1422.05 L430.67,1420.86 L431.18,1419.67 L431.70,1418.48 L432.21,1417.29 L432.73,1416.10 L433.24,1414.92 L433.75,1413.74 L434.27,1412.57 L434.78,1411.39 L435.29,1410.22 L435.81,1409.05 L436.32,1407.89 L436.84,1406.73 L437.35,1405.57 L437.86,1404.41 L438.38,1403.26 L438.89,1402.11 L439.40,1400.96 L439.92,1399.82 L440.43,1398.68 L440.94,1397.55 L441.46,1396.41 L441.97,1395.28 L442.49,1394.16 L443.00,1393.04 L443.51,1391.92 L444.03,1390.80 L444.54,1389.69 L445.05,1388.59 L445.57,1387.48 L446.08,1386.38 L446.60,1385.29 L447.11,1384.19 L447.62,1383.11 L448.14,1382.02 L448.65,1380.94 L449.16,1379.87 L449.68,1378.80 L450.19,1377.73 L450.70,1376.67 L451.22,1375.61 L451.73,1374.55 L452.25,1373.50 L452.76,1372.46 L453.27,1371.42 L453.79,1370.38 L454.30,1369.35 L454.81,1368.32 L455.33,1367.30 L455.84,1366.28 L456.36,1365.27 L456.87,1364.26 L457.38,1363.26 L457.90,1362.26 L458.41,1361.26 L458.92,1360.28 L459.44,1359.29 L459.95,1358.31 L460.47,1357.34 L460.98,1356.37 L461.49,1355.41 L462.01,1354.45 L462.52,1353.50 L463.03,1352.55 L463.55,1351.61 L464.06,1350.67 L464.57,1349.74 L465.09,1348.82 L465.60,1347.90 L466.12,1346.98 L466.63,1346.07 L467.14,1345.17 L467.66,1344.27 L468.17,1343.38 L468.68,1342.50 L469.20,1341.62 L469.71,1340.74 L470.23,1339.87 L470.74,1339.01 L471.25,1338.16 L471.77,1337.31 L472.28,1336.46 L472.79,1335.63 L473.31,1334.79 L473.82,1333.97 L474.33,1333.15 L474.85,1332.34 L475.36,1331.53 L475.88,1330.73 L476.39,1329.94 L476.90,1329.15 L477.42,1328.37 L477.93,1327.60 L478.44,1326.83 L478.96,1326.07 L479.47,1325.32 L479.99,1324.57 L480.50,1323.83 L481.01,1323.10 L481.53,1322.38 L482.04,1321.66 L482.55,1320.94 L483.07,1320.24 L483.58,1319.54 L484.10,1318.85 L484.61,1318.17 L485.12,1317.49 L485.64,1316.82 L486.15,1316.16 L486.66,1315.50 L487.18,1314.86 L487.69,1314.22 L488.20,1313.58 L488.72,1312.96 L489.23,1312.34 L489.75,1311.73 L490.26,1311.13 L490.77,1310.53 L491.29,1309.94 L491.80,1309.36 L492.31,1308.79 L492.83,1308.23 L493.34,1307.67 L493.86,1307.12 L494.37,1306.58 L494.88,1306.04 L495.40,1305.52 L495.91,1305.00 L496.42,1304.49 L496.94,1303.99 L497.45,1303.49 L497.96,1303.01 L498.48,1302.53 L498.99,1302.06 L499.51,1301.60 L500.02,1301.14 L500.53,1300.70 L501.05,1300.26 L501.56,1299.83 L502.07,1299.41 L502.59,1299.00 L503.10,1298.59 L503.62,1298.20 L504.13,1297.81 L504.64,1297.43 L505.16,1297.06 L505.67,1296.70 L506.18,1296.34 L506.70,1296.00 L507.21,1295.66 L507.73,1295.33 L508.24,1295.01 L508.75,1294.70 L509.27,1294.39 L509.78,1294.10 L510.29,1293.81 L510.81,1293.53 L511.32,1293.27 L511.83,1293.00 L512.35,1292.75 L512.86,1292.51 L513.38,1292.28 L513.89,1292.05 L514.40,1291.83 L514.92,1291.62 L515.43,1291.43 L515.94,1291.23 L516.46,1291.05 L516.97,1290.88 L517.49,1290.71 L518.00,1290.56 L518.51,1290.41 L519.03,1290.27 L519.54,1290.15 L520.05,1290.03 L520.57,1289.91 L521.08,1289.81 L521.59,1289.72 L522.11,1289.63 L522.62,1289.56 L523.14,1289.49 L523.65,1289.43 L524.16,1289.38 L524.68,1289.34 L525.19,1289.31 L525.70,1289.29 L526.22,1289.27 L526.73,1289.27 L527.25,1289.27 L527.76,1289.29 L528.27,1289.31 L528.79,1289.34 L529.30,1289.38 L529.81,1289.43 L530.33,1289.49 L530.84,1289.55 L531.36,1289.63 L531.87,1289.71 L532.38,1289.81 L532.90,1289.91 L533.41,1290.02 L533.92,1290.14 L534.44,1290.27 L534.95,1290.41 L535.46,1290.56 L535.98,1290.71 L536.49,1290.88 L537.01,1291.05 L537.52,1291.23 L538.03,1291.42 L538.55,1291.62 L539.06,1291.83 L539.57,1292.05 L540.09,1292.28 L540.60,1292.51 L541.12,1292.76 L541.63,1293.01 L542.14,1293.27 L542.66,1293.54 L543.17,1293.82 L543.68,1294.11 L544.20,1294.41 L544.71,1294.71 L545.22,1295.03 L545.74,1295.35 L546.25,1295.68 L546.77,1296.02 L547.28,1296.37 L547.79,1296.73 L548.31,1297.10 L548.82,1297.47 L549.33,1297.85 L549.85,1298.25 L550.36,1298.65 L550.88,1299.05 L551.39,1299.47 L551.90,1299.90 L552.42,1300.33 L552.93,1300.78 L553.44,1301.23 L553.96,1301.69 L554.47,1302.15 L554.99,1302.63 L555.50,1303.11 L556.01,1303.61 L556.53,1304.11 L557.04,1304.62 L557.55,1305.14 L558.07,1305.66 L558.58,1306.19 L559.09,1306.74 L559.61,1307.29 L560.12,1307.85 L560.64,1308.41 L561.15,1308.99 L561.66,1309.57 L562.18,1310.16 L562.69,1310.76 L563.20,1311.36 L563.72,1311.98 L564.23,1312.60 L564.75,1313.23 L565.26,1313.87 L565.77,1314.51 L566.29,1315.16 L566.80,1315.82 L567.31,1316.49 L567.83,1317.17 L568.34,1317.85 L568.85,1318.54 L569.37,1319.24 L569.88,1319.95 L570.40,1320.66 L570.91,1321.38 L571.42,1322.11 L571.94,1322.85 L572.45,1323.59 L572.96,1324.34 L573.48,1325.10 L573.99,1325.86 L574.51,1326.63 L575.02,1327.41 L575.53,1328.20 L576.05,1328.99 L576.56,1329.79 L577.07,1330.60 L577.59,1331.41 L578.10,1332.23 L578.61,1333.06 L579.13,1333.89 L579.64,1334.73 L580.16,1335.58 L580.67,1336.44 L581.18,1337.30 L581.70,1338.16 L582.21,1339.04 L582.72,1339.92 L583.24,1340.81 L583.75,1341.70 L584.27,1342.60 L584.78,1343.51 L585.29,1344.42 L585.81,1345.34 L586.32,1346.26 L586.83,1347.19 L587.35,1348.13 L587.86,1349.07 L588.38,1350.02 L588.89,1350.98 L589.40,1351.94 L589.92,1352.90 L590.43,1353.88 L590.94,1354.85 L591.46,1355.84 L591.97,1356.83 L592.48,1357.82 L593.00,1358.82 L593.51,1359.83 L594.03,1360.84 L594.54,1361.86 L595.05,1362.88 L595.57,1363.91 L596.08,1364.94 L596.59,1365.98 L597.11,1367.02 L597.62,1368.07 L598.14,1369.12 L598.65,1370.18 L599.16,1371.24 L599.68,1372.31 L600.19,1373.38 L600.70,1374.46 L601.22,1375.54 L601.73,1376.63 L602.24,1377.72 L602.76,1378.82 L603.27,1379.92 L603.79,1381.02 L604.30,1382.13 L604.81,1383.25 L605.33,1384.36 L605.84,1385.49 L606.35,1386.61 L606.87,1387.74 L607.38,1388.88 L607.90,1390.01 L608.41,1391.16 L608.92,1392.30 L609.44,1393.45 L609.95,1394.61 L610.46,1395.76 L610.98,1396.92 L611.49,1398.09 L612.01,1399.26 L612.52,1400.43 L613.03,1401.60 L613.55,1402.78 L614.06,1403.96 L614.57,1405.15 L615.09,1406.33 L615.60,1407.53 L616.11,1408.72 L616.63,1409.92 L617.14,1411.12 L617.66,1412.32 L618.17,1413.52 L618.68,1414.73 L619.20,1415.94 L619.71,1417.16 L620.22,1418.37 L620.74,1419.59 L621.25,1420.81 L621.77,1422.04 L622.28,1423.26 L622.79,1424.49 L623.31,1425.72 L623.82,1426.95 L624.33,1428.18 L624.85,1429.42 L625.36,1430.66 L625.87,1431.90 L626.39,1433.14 L626.90,1434.38 L627.42,1435.63 L627.93,1436.88 L628.44,1438.12 L628.96,1439.37 L629.47,1440.63 L629.98,1441.88 L630.50,1443.13 L631.01,1444.39 L631.53,1445.64 L632.04,1446.90 L632.55,1448.16 L633.07,1449.42 L633.58,1450.68 L634.09,1451.94 L634.61,1453.20 L635.12,1454.47 L635.64,1455.73 L636.15,1456.99 L636.66,1458.26 L637.18,1459.52 L637.69,1460.79 L638.20,1462.05 L638.72,1463.32 L639.23,1464.59 L639.74,1465.85 L640.26,1467.12 L640.77,1468.39 L641.29,1469.65 L641.80,1470.92 L642.31,1472.19 L642.83,1473.45 L643.34,1474.72 L643.85,1475.98 L644.37,1477.25 L644.88,1478.51 L645.40,1479.78 L645.91,1481.04 L646.42,1482.30 L646.94,1483.56 L647.45,1484.83 L647.96,1486.09 L648.48,1487.34 L648.99,1488.60 L649.50,1489.86 L650.02,1491.12 L650.53,1492.37 L651.05,1493.63 L651.56,1494.88 L652.07,1496.13 L652.59,1497.38 L653.10,1498.63 L653.61,1499.87 L654.13,1501.12 L654.64,1502.36 L655.16,1503.60 L655.67,1504.84 L656.18,1506.08 L656.70,1507.32 L657.21,1508.55 L657.72,1509.78 L658.24,1511.01 L658.75,1512.24 L659.27,1513.47 L659.78,1514.69 L660.29,1515.91 L660.81,1517.13 L661.32,1518.34 L661.83,1519.56 L662.35,1520.77 L662.86,1521.97 L663.37,1523.18 L663.89,1524.38 L664.40,1525.58 L664.92,1526.78 L665.43,1527.97 L665.94,1529.16 L666.46,1530.35 L666.97,1531.53 L667.48,1532.71 L668.00,1533.89 L668.51,1535.07 L669.03,1536.24 L669.54,1537.40 L670.05,1538.57 L670.57,1539.73 L671.08,1540.89 L671.59,1542.04 L672.11,1543.19 L672.62,1544.33 L673.13,1545.48 L673.65,1546.61 L674.16,1547.75 L674.68,1548.88 L675.19,1550.00 L675.70,1551.12 L676.22,1552.24 L676.73,1553.35 L677.24,1554.46 L677.76,1555.57 L678.27,1556.67 L678.79,1557.76 L679.30,1558.85 L679.81,1559.94 L680.33,1561.02 L680.84,1562.10 L681.35,1563.17 L681.87,1564.24 L682.38,1565.30 L682.90,1566.36 L683.41,1567.41 L683.92,1568.46 L684.44,1569.50 L684.95,1570.54 L685.46,1571.57 L685.98,1572.60 L686.49,1573.62 L687.00,1574.63 L687.52,1575.65 L688.03,1576.65 L688.55,1577.65 L689.06,1578.64 L689.57,1579.63 L690.09,1580.62 L690.60,1581.59 L691.11,1582.57 L691.63,1583.53 L692.14,1584.49 L692.66,1585.45 L693.17,1586.39 L693.68,1587.34 L694.20,1588.27 L694.71,1589.20 L695.22,1590.13 L695.74,1591.04 L696.25,1591.96 L696.76,1592.86 L697.28,1593.76 L697.79,1594.65 L698.31,1595.54 L698.82,1596.42 L699.33,1597.29 L699.85,1598.16 L700.36,1599.02 L700.87,1599.87 L701.39,1600.72 L701.90,1601.56 L702.42,1602.39 L702.93,1603.22 L703.44,1604.04 L703.96,1604.85 L704.47,1605.66 L704.98,1606.46 L705.50,1607.25 L706.01,1608.03 L706.53,1608.81 L707.04,1609.58 L707.55,1610.35 L708.07,1611.10 L708.58,1611.85 L709.09,1612.59 L709.61,1613.33 L710.12,1614.06 L710.63,1614.78 L711.15,1615.49 L711.66,1616.19 L712.18,1616.89 L712.69,1617.58 L713.20,1618.26 L713.72,1618.94 L714.23,1619.61 L714.74,1620.27 L715.26,1620.92 L715.77,1621.56 L716.29,1622.20 L716.80,1622.83 L717.31,1623.45 L717.83,1624.06 L718.34,1624.66 L718.85,1625.26 L719.37,1625.85 L719.88,1626.43 L720.39,1627.01 L720.91,1627.57 L721.42,1628.13 L721.94,1628.68 L722.45,1629.22 L722.96,1629.75 L723.48,1630.27 L723.99,1630.79 L724.50,1631.30 L725.02,1631.80 L725.53,1632.29 L726.05,1632.77 L726.56,1633.25 L727.07,1633.72 L727.59,1634.17 L728.10,1634.62 L728.61,1635.06 L729.13,1635.50 L729.64,1635.92 L730.16,1636.34 L730.67,1636.75 L731.18,1637.14 L731.70,1637.53 L732.21,1637.92 L732.72,1638.29 L733.24,1638.65 L733.75,1639.01 L734.26,1639.36 L734.78,1639.70 L735.29,1640.03 L735.81,1640.35 L736.32,1640.66 L736.83,1640.96 L737.35,1641.26 L737.86,1641.55 L738.37,1641.82 L738.89,1642.09 L739.40,1642.35 L739.92,1642.60 L740.43,1642.85 L740.94,1643.08 L741.46,1643.31 L741.97,1643.52 L742.48,1643.73 L743.00,1643.93 L743.51,1644.12 L744.02,1644.30 L744.54,1644.47 L745.05,1644.63 L745.57,1644.78 L746.08,1644.93 L746.59,1645.06 L747.11,1645.19 L747.62,1645.31 L748.13,1645.42 L748.65,1645.52 L749.16,1645.61 L749.68,1645.69 L750.19,1645.76 L750.70,1645.83 L751.22,1645.88 L751.73,1645.93 L752.24,1645.97 L752.76,1645.99 L753.27,1646.01 L753.79,1646.02 L754.30,1646.02 L754.81,1646.02 L755.33,1646.00 L755.84,1645.97 L756.35,1645.94 L756.87,1645.89 L757.38,1645.84 L757.89,1645.78 L758.41,1645.71 L758.92,1645.63 L759.44,1645.54 L759.95,1645.44 L760.46,1645.34 L760.98,1645.22 L761.49,1645.10 L762.00,1644.96 L762.52,1644.82 L763.03,1644.67 L763.55,1644.51 L764.06,1644.34 L764.57,1644.16 L765.09,1643.97 L765.60,1643.78 L766.11,1643.57 L766.63,1643.36 L767.14,1643.14 L767.65,1642.90 L768.17,1642.66 L768.68,1642.42 L769.20,1642.16 L769.71,1641.89 L770.22,1641.62 L770.74,1641.33 L771.25,1641.04 L771.76,1640.74 L772.28,1640.43 L772.79,1640.11 L773.31,1639.78 L773.82,1639.44 L774.33,1639.10 L774.85,1638.74 L775.36,1638.38 L775.87,1638.01 L776.39,1637.63 L776.90,1637.24 L777.41,1636.84 L777.93,1636.44 L778.44,1636.02 L778.96,1635.60 L779.47,1635.17 L779.98,1634.73 L780.50,1634.28 L781.01,1633.83 L781.52,1633.36 L782.04,1632.89 L782.55,1632.41 L783.07,1631.92 L783.58,1631.42 L784.09,1630.92 L784.61,1630.40 L785.12,1629.88 L785.63,1629.35 L786.15,1628.81 L786.66,1628.26 L787.18,1627.71 L787.69,1627.14 L788.20,1626.57 L788.72,1625.99 L789.23,1625.41 L789.74,1624.81 L790.26,1624.21 L790.77,1623.60 L791.28,1622.98 L791.80,1622.35 L792.31,1621.72 L792.83,1621.08 L793.34,1620.43 L793.85,1619.77 L794.37,1619.10 L794.88,1618.43 L795.39,1617.75 L795.91,1617.06 L796.42,1616.36 L796.94,1615.66 L797.45,1614.95 L797.96,1614.23 L798.48,1613.51 L798.99,1612.77 L799.50,1612.03 L800.02,1611.29 L800.53,1610.53 L801.04,1609.77 L801.56,1609.00 L802.07,1608.23 L802.59,1607.44 L803.10,1606.65 L803.61,1605.85 L804.13,1605.05 L804.64,1604.24 L805.15,1603.42 L805.67,1602.60 L806.18,1601.76 L806.70,1600.93 L807.21,1600.08 L807.72,1599.23 L808.24,1598.37 L808.75,1597.50 L809.26,1596.63 L809.78,1595.75 L810.29,1594.87 L810.81,1593.98 L811.32,1593.08 L811.83,1592.18 L812.35,1591.27 L812.86,1590.35 L813.37,1589.43 L813.89,1588.50 L814.40,1587.57 L814.91,1586.63 L815.43,1585.68 L815.94,1584.73 L816.46,1583.77 L816.97,1582.80 L817.48,1581.83 L818.00,1580.86 L818.51,1579.87 L819.02,1578.89 L819.54,1577.89 L820.05,1576.90 L820.57,1575.89 L821.08,1574.88 L821.59,1573.87 L822.11,1572.85 L822.62,1571.82 L823.13,1570.79 L823.65,1569.75 L824.16,1568.71 L824.67,1567.67 L825.19,1566.62 L825.70,1565.56 L826.22,1564.50 L826.73,1563.43 L827.24,1562.36 L827.76,1561.29 L828.27,1560.20 L828.78,1559.12 L829.30,1558.03 L829.81,1556.94 L830.33,1555.84 L830.84,1554.73 L831.35,1553.63 L831.87,1552.51 L832.38,1551.40 L832.89,1550.28 L833.41,1549.15 L833.92,1548.02 L834.44,1546.89 L834.95,1545.75 L835.46,1544.61 L835.98,1543.47 L836.49,1542.32 L837.00,1541.17 L837.52,1540.01 L838.03,1538.85 L838.54,1537.69 L839.06,1536.52 L839.57,1535.35 L840.09,1534.18 L840.60,1533.00 L841.11,1531.82 L841.63,1530.64 L842.14,1529.45 L842.65,1528.26 L843.17,1527.07 L843.68,1525.87 L844.20,1524.67 L844.71,1523.47 L845.22,1522.27 L845.74,1521.06 L846.25,1519.85 L846.76,1518.64 L847.28,1517.42 L847.79,1516.21 L848.30,1514.99 L848.82,1513.76 L849.33,1512.54 L849.85,1511.31 L850.36,1510.08 L850.87,1508.85 L851.39,1507.62 L851.90,1506.38 L852.41,1505.15 L852.93,1503.91 L853.44,1502.67 L853.96,1501.42 L854.47,1500.18 L854.98,1498.93 L855.50,1497.68 L856.01,1496.43 L856.52,1495.18 L857.04,1493.93 L857.55,1492.68 L858.07,1491.42 L858.58,1490.17 L859.09,1488.91 L859.61,1487.65 L860.12,1486.39 L860.63,1485.13 L861.15,1483.87 L861.66,1482.61 L862.17,1481.35 L862.69,1480.09 L863.20,1478.82 L863.72,1477.56 L864.23,1476.29 L864.74,1475.03 L865.26,1473.76 L865.77,1472.49 L866.28,1471.23 L866.80,1469.96 L867.31,1468.70 L867.83,1467.43 L868.34,1466.16 L868.85,1464.90 L869.37,1463.63 L869.88,1462.36 L870.39,1461.10 L870.91,1459.83 L871.42,1458.57 L871.93,1457.30 L872.45,1456.04 L872.96,1454.77 L873.48,1453.51 L873.99,1452.25 L874.50,1450.99 L875.02,1449.73 L875.53,1448.47 L876.04,1447.21 L876.56,1445.95 L877.07,1444.69 L877.59,1443.44 L878.10,1442.18 L878.61,1440.93 L879.13,1439.68 L879.64,1438.43 L880.15,1437.18 L880.67,1435.93 L881.18,1434.69 L881.70,1433.44 L882.21,1432.20 L882.72,1430.96 L883.24,1429.72 L883.75,1428.49 L884.26,1427.25 L884.78,1426.02 L885.29,1424.79 L885.80,1423.56 L886.32,1422.33 L886.83,1421.11 L887.35,1419.89 L887.86,1418.67 L888.37,1417.45 L888.89,1416.24 L889.40,1415.03 L889.91,1413.82 L890.43,1412.61 L890.94,1411.41 L891.46,1410.21 L891.97,1409.01 L892.48,1407.82 L893.00,1406.63 L893.51,1405.44 L894.02,1404.25 L894.54,1403.07 L895.05,1401.89 L895.56,1400.71 L896.08,1399.54 L896.59,1398.37 L897.11,1397.21 L897.62,1396.05 L898.13,1394.89 L898.65,1393.73 L899.16,1392.58 L899.67,1391.44 L900.19,1390.29 L900.70,1389.15 L901.22,1388.02 L901.73,1386.89 L902.24,1385.76 L902.76,1384.64 L903.27,1383.52 L903.78,1382.40 L904.30,1381.29 L904.81,1380.19 L905.33,1379.09 L905.84,1377.99 L906.35,1376.90 L906.87,1375.81 L907.38,1374.73 L907.89,1373.65 L908.41,1372.57 L908.92,1371.50 L909.43,1370.44 L909.95,1369.38 L910.46,1368.33 L910.98,1367.28 L911.49,1366.23 L912.00,1365.19 L912.52,1364.16 L913.03,1363.13 L913.54,1362.11 L914.06,1361.09 L914.57,1360.08 L915.09,1359.07 L915.60,1358.07 L916.11,1357.07 L916.63,1356.08 L917.14,1355.09 L917.65,1354.11 L918.17,1353.14 L918.68,1352.17 L919.19,1351.21 L919.71,1350.25 L920.22,1349.30 L920.74,1348.36 L921.25,1347.42 L921.76,1346.49 L922.28,1345.56 L922.79,1344.64 L923.30,1343.73 L923.82,1342.82 L924.33,1341.92 L924.85,1341.02 L925.36,1340.14 L925.87,1339.25 L926.39,1338.38 L926.90,1337.51 L927.41,1336.65 L927.93,1335.79 L928.44,1334.94 L928.96,1334.10 L929.47,1333.26 L929.98,1332.43 L930.50,1331.61 L931.01,1330.80 L931.52,1329.99 L932.04,1329.19 L932.55,1328.39 L933.06,1327.60 L933.58,1326.82 L934.09,1326.05 L934.61,1325.28 L935.12,1324.52 L935.63,1323.77 L936.15,1323.03 L936.66,1322.29 L937.17,1321.56 L937.69,1320.84 L938.20,1320.12 L938.72,1319.41 L939.23,1318.71 L939.74,1318.02 L940.26,1317.34 L940.77,1316.66 L941.28,1315.99 L941.80,1315.33 L942.31,1314.67 L942.82,1314.02 L943.34,1313.39 L943.85,1312.75 L944.37,1312.13 L944.88,1311.51 L945.39,1310.91 L945.91,1310.31 L946.42,1309.71 L946.93,1309.13 L947.45,1308.55 L947.96,1307.99 L948.48,1307.43 L948.99,1306.87 L949.50,1306.33 L950.02,1305.79 L950.53,1305.27 L951.04,1304.75 L951.56,1304.24 L952.07,1303.73 L952.59,1303.24 L953.10,1302.75 L953.61,1302.27 L954.13,1301.81 L954.64,1301.34 L955.15,1300.89 L955.67,1300.45 L956.18,1300.01 L956.69,1299.58 L957.21,1299.16 L957.72,1298.75 L958.24,1298.35 L958.75,1297.96 L959.26,1297.57 L959.78,1297.20 L960.29,1296.83 L960.80,1296.47 L961.32,1296.12 L961.83,1295.78 L962.35,1295.44 L962.86,1295.12 L963.37,1294.80 L963.89,1294.50 L964.40,1294.20 L964.91,1293.91 L965.43,1293.63 L965.94,1293.35 L966.45,1293.09 L966.97,1292.84 L967.48,1292.59 L968.00,1292.35 L968.51,1292.13 L969.02,1291.91 L969.54,1291.70 L970.05,1291.50 L970.56,1291.30 L971.08,1291.12 L971.59,1290.94 L972.11,1290.78 L972.62,1290.62 L973.13,1290.47 L973.65,1290.33 L974.16,1290.20 L974.67,1290.08 L975.19,1289.97 L975.70,1289.87 L976.21,1289.77 L976.73,1289.69 L977.24,1289.61 L977.76,1289.54 L978.27,1289.49 L978.78,1289.44 L979.30,1289.40 L979.81,1289.37 L980.32,1289.34 L980.84,1289.33 L981.35,1289.33 L981.87,1289.33 L982.38,1289.34 L982.89,1289.37 L983.41,1289.40 L983.92,1289.44 L984.43,1289.49 L984.95,1289.55 L985.46,1289.61 L985.98,1289.69 L986.49,1289.78 L987.00,1289.87 L987.52,1289.97 L988.03,1290.09 L988.54,1290.21 L989.06,1290.34 L989.57,1290.48 L990.08,1290.62 L990.60,1290.78 L991.11,1290.95 L991.63,1291.12 L992.14,1291.31 L992.65,1291.50 L993.17,1291.70 L993.68,1291.91 L994.19,1292.13 L994.71,1292.36 L995.22,1292.60 L995.74,1292.84 L996.25,1293.10 L996.76,1293.36 L997.28,1293.63 L997.79,1293.91 L998.30,1294.20 L998.82,1294.50 L999.33,1294.81 L999.84,1295.13 L1000.36,1295.45 L1000.87,1295.78 L1001.39,1296.13 L1001.90,1296.48 L1002.41,1296.84 L1002.93,1297.20 L1003.44,1297.58 L1003.95,1297.97 L1004.47,1298.36 L1004.98,1298.76 L1005.50,1299.17 L1006.01,1299.59 L1006.52,1300.02 L1007.04,1300.46 L1007.55,1300.90 L1008.06,1301.35 L1008.58,1301.82 L1009.09,1302.28 L1009.61,1302.76 L1010.12,1303.25 L1010.63,1303.74 L1011.15,1304.25 L1011.66,1304.76 L1012.17,1305.28 L1012.69,1305.81 L1013.20,1306.34 L1013.71,1306.89 L1014.23,1307.44 L1014.74,1308.00 L1015.26,1308.57 L1015.77,1309.14 L1016.28,1309.73 L1016.80,1310.32 L1017.31,1310.92 L1017.82,1311.53 L1018.34,1312.14 L1018.85,1312.77 L1019.37,1313.40 L1019.88,1314.04 L1020.39,1314.69 L1020.91,1315.34 L1021.42,1316.00 L1021.93,1316.67 L1022.45,1317.35 L1022.96,1318.04 L1023.47,1318.73 L1023.99,1319.43 L1024.50,1320.14 L1025.02,1320.85 L1025.53,1321.58 L1026.04,1322.31 L1026.56,1323.04 L1027.07,1323.79 L1027.58,1324.54 L1028.10,1325.30 L1028.61,1326.07 L1029.13,1326.84 L1029.64,1327.62 L1030.15,1328.41 L1030.67,1329.20 L1031.18,1330.00 L1031.69,1330.81 L1032.21,1331.63 L1032.72,1332.45 L1033.24,1333.28 L1033.75,1334.12 L1034.26,1334.96 L1034.78,1335.81 L1035.29,1336.66 L1035.80,1337.53 L1036.32,1338.40 L1036.83,1339.27 L1037.34,1340.15 L1037.86,1341.04 L1038.37,1341.94 L1038.89,1342.84 L1039.40,1343.75 L1039.91,1344.66 L1040.43,1345.58 L1040.94,1346.51 L1041.45,1347.44 L1041.97,1348.38 L1042.48,1349.32 L1043.00,1350.27 L1043.51,1351.23 L1044.02,1352.19 L1044.54,1353.16 L1045.05,1354.13 L1045.56,1355.11 L1046.08,1356.10 L1046.59,1357.09 L1047.10,1358.09 L1047.62,1359.09 L1048.13,1360.10 L1048.65,1361.11 L1049.16,1362.13 L1049.67,1363.15 L1050.19,1364.18 L1050.70,1365.21 L1051.21,1366.25 L1051.73,1367.30 L1052.24,1368.35 L1052.76,1369.40 L1053.27,1370.46 L1053.78,1371.53 L1054.30,1372.60 L1054.81,1373.67 L1055.32,1374.75 L1055.84,1375.83 L1056.35,1376.92 L1056.87,1378.01 L1057.38,1379.11 L1057.89,1380.21 L1058.41,1381.32 L1058.92,1382.43 L1059.43,1383.54 L1059.95,1384.66 L1060.46,1385.78 L1060.97,1386.91 L1061.49,1388.04 L1062.00,1389.18 L1062.52,1390.32 L1063.03,1391.46 L1063.54,1392.61 L1064.06,1393.76 L1064.57,1394.91 L1065.08,1396.07 L1065.60,1397.23 L1066.11,1398.40 L1066.63,1399.57 L1067.14,1400.74 L1067.65,1401.92 L1068.17,1403.09 L1068.68,1404.28 L1069.19,1405.46 L1069.71,1406.65 L1070.22,1407.84 L1070.73,1409.04 L1071.25,1410.23 L1071.76,1411.44 L1072.28,1412.64 L1072.79,1413.84 L1073.30,1415.05 L1073.82,1416.27 L1074.33,1417.48 L1074.84,1418.70 L1075.36,1419.91 L1075.87,1421.14 L1076.39,1422.36 L1076.90,1423.59 L1077.41,1424.81 L1077.93,1426.05 L1078.44,1427.28 L1078.95,1428.51 L1079.47,1429.75 L1079.98,1430.99 L1080.50,1432.23 L1081.01,1433.47 L1081.52,1434.71 L1082.04,1435.96 L1082.55,1437.21 L1083.06,1438.46 L1083.58,1439.71 L1084.09,1440.96 L1084.60,1442.21 L1085.12,1443.47 L1085.63,1444.72 L1086.15,1445.98 L1086.66,1447.24 L1087.17,1448.49 L1087.69,1449.75 L1088.20,1451.01 L1088.71,1452.28 L1089.23,1453.54 L1089.74,1454.80 L1090.26,1456.06 L1090.77,1457.33 L1091.28,1458.59 L1091.80,1459.86 L1092.31,1461.12 L1092.82,1462.39 L1093.34,1463.66 L1093.85,1464.92 L1094.36,1466.19 L1094.88,1467.46 L1095.39,1468.72 L1095.91,1469.99 L1096.42,1471.26 L1096.93,1472.52 L1097.45,1473.79 L1097.96,1475.05 L1098.47,1476.32 L1098.99,1477.58 L1099.50,1478.85 L1100.02,1480.11 L1100.53,1481.37 L1101.04,1482.64 L1101.56,1483.90 L1102.07,1485.16 L1102.58,1486.42 L1103.10,1487.68 L1103.61,1488.94 L1104.13,1490.19 L1104.64,1491.45 L1105.15,1492.70 L1105.67,1493.96 L1106.18,1495.21 L1106.69,1496.46 L1107.21,1497.71 L1107.72,1498.96 L1108.23,1500.20 L1108.75,1501.45 L1109.26,1502.69 L1109.78,1503.93 L1110.29,1505.17 L1110.80,1506.41 L1111.32,1507.64 L1111.83,1508.88 L1112.34,1510.11 L1112.86,1511.34 L1113.37,1512.57 L1113.89,1513.79 L1114.40,1515.01 L1114.91,1516.23 L1115.43,1517.45 L1115.94,1518.66 L1116.45,1519.88 L1116.97,1521.09 L1117.48,1522.29 L1117.99,1523.50 L1118.51,1524.70 L1119.02,1525.90 L1119.54,1527.09 L1120.05,1528.29 L1120.56,1529.48 L1121.08,1530.66 L1121.59,1531.85 L1122.10,1533.03 L1122.62,1534.20 L1123.13,1535.38 L1123.65,1536.55 L1124.16,1537.71 L1124.67,1538.88 L1125.19,1540.04 L1125.70,1541.19 L1126.21,1542.34 L1126.73,1543.49 L1127.24,1544.64 L1127.76,1545.78 L1128.27,1546.91 L1128.78,1548.05 L1129.30,1549.18 L1129.81,1550.30 L1130.32,1551.42 L1130.84,1552.54 L1131.35,1553.65 L1131.86,1554.76 L1132.38,1555.86 L1132.89,1556.96 L1133.41,1558.05 L1133.92,1559.14 L1134.43,1560.23 L1134.95,1561.31 L1135.46,1562.38 L1135.97,1563.45 L1136.49,1564.52 L1137.00,1565.58 L1137.52,1566.64 L1138.03,1567.69 L1138.54,1568.74 L1139.06,1569.78 L1139.57,1570.81 L1140.08,1571.84 L1140.60,1572.87 L1141.11,1573.89 L1141.62,1574.90 L1142.14,1575.91 L1142.65,1576.92 L1143.17,1577.92 L1143.68,1578.91 L1144.19,1579.90 L1144.71,1580.88 L1145.22,1581.85 L1145.73,1582.82 L1146.25,1583.79 L1146.76,1584.75 L1147.28,1585.70 L1147.79,1586.64 L1148.30,1587.59 L1148.82,1588.52 L1149.33,1589.45 L1149.84,1590.37 L1150.36,1591.29 L1150.87,1592.20 L1151.39,1593.10 L1151.90,1594.00 L1152.41,1594.89 L1152.93,1595.77 L1153.44,1596.65 L1153.95,1597.52 L1154.47,1598.39 L1154.98,1599.25 L1155.49,1600.10 L1156.01,1600.94 L1156.52,1601.78 L1157.04,1602.61 L1157.55,1603.44 L1158.06,1604.26 L1158.58,1605.07 L1159.09,1605.87 L1159.60,1606.67 L1160.12,1607.46 L1160.63,1608.24 L1161.15,1609.02 L1161.66,1609.79 L1162.17,1610.55 L1162.69,1611.30 L1163.20,1612.05 L1163.71,1612.79 L1164.23,1613.52 L1164.74,1614.25 L1165.25,1614.97 L1165.77,1615.68 L1166.28,1616.38 L1166.80,1617.08 L1167.31,1617.76 L1167.82,1618.44 L1168.34,1619.12 L1168.85,1619.78 L1169.36,1620.44 L1169.88,1621.09 L1170.39,1621.73 L1170.91,1622.37 L1171.42,1622.99 L1171.93,1623.61 L1172.45,1624.22 L1172.96,1624.82 L1173.47,1625.42 L1173.99,1626.01 L1174.50,1626.59 L1175.01,1627.16 L1175.53,1627.72 L1176.04,1628.27 L1176.56,1628.82 L1177.07,1629.36 L1177.58,1629.89 L1178.10,1630.41 L1178.61,1630.93 L1179.12,1631.43 L1179.64,1631.93 L1180.15,1632.42 L1180.67,1632.90 L1181.18,1633.37 L1181.69,1633.84 L1182.21,1634.29 L1182.72,1634.74 L1183.23,1635.18 L1183.75,1635.61 L1184.26,1636.03 L1184.78,1636.45 L1185.29,1636.85 L1185.80,1637.25 L1186.32,1637.64 L1186.83,1638.02 L1187.34,1638.39 L1187.86,1638.75 L1188.37,1639.10 L1188.88,1639.45 L1189.40,1639.79 L1189.91,1640.11 L1190.43,1640.43 L1190.94,1640.74 L1191.45,1641.04 L1191.97,1641.34 L1192.48,1641.62 L1192.99,1641.90 L1193.51,1642.16 L1194.02,1642.42 L1194.54,1642.67 L1195.05,1642.91 L1195.56,1643.14 L1196.08,1643.36 L1196.59,1643.58 L1197.10,1643.78 L1197.62,1643.98 L1198.13,1644.16 L1198.64,1644.34 L1199.16,1644.51 L1199.67,1644.67 L1200.19,1644.82 L1200.70,1644.97 L1201.21,1645.10 L1201.73,1645.22 L1202.24,1645.34 L1202.75,1645.45 L1203.27,1645.54 L1203.78,1645.63 L1204.30,1645.71 L1204.81,1645.78 L1205.32,1645.84 L1205.84,1645.90 L1206.35,1645.94 L1206.86,1645.97 L1207.38,1646.00 L1207.89,1646.02 L1208.41,1646.02 L1208.92,1646.02 L1209.43,1646.01 L1209.95,1645.99 L1210.46,1645.97 L1210.97,1645.93 L1211.49,1645.88 L1212.00,1645.83 L1212.51,1645.76 L1213.03,1645.69 L1213.54,1645.61 L1214.06,1645.52 L1214.57,1645.42 L1215.08,1645.31 L1215.60,1645.19 L1216.11,1645.06 L1216.62,1644.93 L1217.14,1644.78 L1217.65,1644.63 L1218.17,1644.46 L1218.68,1644.29 L1219.19,1644.11 L1219.71,1643.92 L1220.22,1643.72 L1220.73,1643.52 L1221.25,1643.30 L1221.76,1643.08 L1222.27,1642.84 L1222.79,1642.60 L1223.30,1642.35 L1223.82,1642.09 L1224.33,1641.82 L1224.84,1641.54 L1225.36,1641.25 L1225.87,1640.96 L1226.38,1640.65 L1226.90,1640.34 L1227.41,1640.02 L1227.93,1639.69 L1228.44,1639.35 L1228.95,1639.00 L1229.47,1638.65 L1229.98,1638.28 L1230.49,1637.91 L1231.01,1637.53 L1231.52,1637.14 L1232.04,1636.74 L1232.55,1636.33 L1233.06,1635.91 L1233.58,1635.49 L1234.09,1635.06 L1234.60,1634.61 L1235.12,1634.16 L1235.63,1633.71 L1236.14,1633.24 L1236.66,1632.76 L1237.17,1632.28 L1237.69,1631.79 L1238.20,1631.29 L1238.71,1630.78 L1239.23,1630.26 L1239.74,1629.74 L1240.25,1629.21 L1240.77,1628.66 L1241.28,1628.12 L1241.80,1627.56 L1242.31,1626.99 L1242.82,1626.42 L1243.34,1625.84 L1243.85,1625.25 L1244.36,1624.65 L1244.88,1624.05 L1245.39,1623.43 L1245.90,1622.81 L1246.42,1622.18 L1246.93,1621.55 L1247.45,1620.90 L1247.96,1620.25 L1248.47,1619.59 L1248.99,1618.92 L1249.50,1618.25 L1250.01,1617.57 L1250.53,1616.88 L1251.04,1616.18 L1251.56,1615.47 L1252.07,1614.76 L1252.58,1614.04 L1253.10,1613.31 L1253.61,1612.58 L1254.12,1611.84 L1254.64,1611.09 L1255.15,1610.33 L1255.67,1609.57 L1256.18,1608.80 L1256.69,1608.02 L1257.21,1607.23 L1257.72,1606.44 L1258.23,1605.64 L1258.75,1604.84 L1259.26,1604.02 L1259.77,1603.20 L1260.29,1602.38 L1260.80,1601.54 L1261.32,1600.70 L1261.83,1599.85 L1262.34,1599.00 L1262.86,1598.14 L1263.37,1597.27 L1263.88,1596.40 L1264.40,1595.52 L1264.91,1594.63 L1265.43,1593.74 L1265.94,1592.84 L1266.45,1591.94 L1266.97,1591.03 L1267.48,1590.11 L1267.99,1589.18 L1268.51,1588.25 L1269.02,1587.32 L1269.53,1586.37 L1270.05,1585.43 L1270.56,1584.47 L1271.08,1583.51 L1271.59,1582.55 L1272.10,1581.57 L1272.62,1580.60 L1273.13,1579.61 L1273.64,1578.62 L1274.16,1577.63 L1274.67,1576.63 L1275.19,1575.62 L1275.70,1574.61 L1276.21,1573.60 L1276.73,1572.58 L1277.24,1571.55 L1277.75,1570.52 L1278.27,1569.48 L1278.78,1568.44 L1279.30,1567.39 L1279.81,1566.34 L1280.32,1565.28 L1280.84,1564.22 L1281.35,1563.15 L1281.86,1562.08 L1282.38,1561.00 L1282.89,1559.92 L1283.40,1558.83 L1283.92,1557.74 L1284.43,1556.64 L1284.95,1555.54 L1285.46,1554.44 L1285.97,1553.33 L1286.49,1552.22 L1287.00,1551.10 L1287.51,1549.98 L1288.03,1548.85 L1288.54,1547.72 L1289.06,1546.59 L1289.57,1545.45 L1290.08,1544.31 L1290.60,1543.16 L1291.11,1542.01 L1291.62,1540.86 L1292.14,1539.70 L1292.65,1538.54 L1293.16,1537.38 L1293.68,1536.21 L1294.19,1535.04 L1294.71,1533.87 L1295.22,1532.69 L1295.73,1531.51 L1296.25,1530.32 L1296.76,1529.14 L1297.27,1527.95 L1297.79,1526.75 L1298.30,1525.56 L1298.82,1524.36 L1299.33,1523.15 L1299.84,1521.95 L1300.36,1520.74 L1300.87,1519.53 L1301.38,1518.32 L1301.90,1517.10 L1302.41,1515.88 L1302.93,1514.66 L1303.44,1513.44 L1303.95,1512.21 L1304.47,1510.99 L1304.98,1509.76 L1305.49,1508.52 L1306.01,1507.29 L1306.52,1506.05 L1307.03,1504.82 L1307.55,1503.58 L1308.06,1502.34 L1308.58,1501.09 L1309.09,1499.85 L1309.60,1498.60 L1310.12,1497.35 L1310.63,1496.10 L1311.14,1494.85 L1311.66,1493.60 L1312.17,1492.35 L1312.69,1491.09 L1313.20,1489.83 L1313.71,1488.58 L1314.23,1487.32 L1314.74,1486.06 L1315.25,1484.80 L1315.77,1483.54 L1316.28,1482.28 L1316.79,1481.01 L1317.31,1479.75 L1317.82,1478.49 L1318.34,1477.22 L1318.85,1475.96 L1319.36,1474.69 L1319.88,1473.42 L1320.39,1472.16 L1320.90,1470.89 L1321.42,1469.63 L1321.93,1468.36 L1322.45,1467.09 L1322.96,1465.83 L1323.47,1464.56 L1323.99,1463.29 L1324.50,1462.03 L1325.01,1460.76 L1325.53,1459.50 L1326.04,1458.23 L1326.56,1456.97 L1327.07,1455.70 L1327.58,1454.44 L1328.10,1453.18 L1328.61,1451.91 L1329.12,1450.65 L1329.64,1449.39 L1330.15,1448.13 L1330.66,1446.87 L1331.18,1445.62 L1331.69,1444.36 L1332.21,1443.11 L1332.72,1441.85 L1333.23,1440.60 L1333.75,1439.35 L1334.26,1438.10 L1334.77,1436.85 L1335.29,1435.60 L1335.80,1434.36 L1336.32,1433.11 L1336.83,1431.87 L1337.34,1430.63 L1337.86,1429.39 L1338.37,1428.16 L1338.88,1426.92 L1339.40,1425.69 L1339.91,1424.46 L1340.42,1423.23 L1340.94,1422.01 L1341.45,1420.79 L1341.97,1419.57 L1342.48,1418.35 L1342.99,1417.13 L1343.51,1415.92 L1344.02,1414.71 L1344.53,1413.50 L1345.05,1412.29 L1345.56,1411.09 L1346.08,1409.89 L1346.59,1408.69 L1347.10,1407.50 L1347.62,1406.31 L1348.13,1405.12 L1348.64,1403.94 L1349.16,1402.76 L1349.67,1401.58 L1350.19,1400.40 L1350.70,1399.23 L1351.21,1398.06 L1351.73,1396.90 L1352.24,1395.74 L1352.75,1394.58 L1353.27,1393.43 L1353.78,1392.28 L1354.29,1391.13 L1354.81,1389.99 L1355.32,1388.85 L1355.84,1387.72 L1356.35,1386.59 L1356.86,1385.46 L1357.38,1384.34 L1357.89,1383.22 L1358.40,1382.11 L1358.92,1381.00 L1359.43,1379.89 L1359.95,1378.79 L1360.46,1377.70 L1360.97,1376.61 L1361.49,1375.52 L1362.00,1374.44 L1362.51,1373.36 L1363.03,1372.29 L1363.54,1371.22 L1364.05,1370.16 L1364.57,1369.10 L1365.08,1368.05 L1365.60,1367.00 L1366.11,1365.96 L1366.62,1364.92 L1367.14,1363.89 L1367.65,1362.86 L1368.16,1361.84 L1368.68,1360.82 L1369.19,1359.81 L1369.71,1358.80 L1370.22,1357.80 L1370.73,1356.81 L1371.25,1355.82 L1371.76,1354.83 L1372.27,1353.85 L1372.79,1352.88 L1373.30,1351.92 L1373.81,1350.96 L1374.33,1350.00 L1374.84,1349.05 L1375.36,1348.11 L1375.87,1347.17 L1376.38,1346.24 L1376.90,1345.32 L1377.41,1344.40 L1377.92,1343.49 L1378.44,1342.58 L1378.95,1341.68 L1379.47,1340.79 L1379.98,1339.90 L1380.49,1339.02 L1381.01,1338.15 L1381.52,1337.28 L1382.03,1336.42 L1382.55,1335.56 L1383.06,1334.72 L1383.58,1333.88 L1384.09,1333.04 L1384.60,1332.21 L1385.12,1331.39 L1385.63,1330.58 L1386.14,1329.77 L1386.66,1328.97 L1387.17,1328.18 L1387.68,1327.40 L1388.20,1326.62 L1388.71,1325.85 L1389.23,1325.08 L1389.74,1324.32 L1390.25,1323.57 L1390.77,1322.83 L1391.28,1322.10 L1391.79,1321.37 L1392.31,1320.65 L1392.82,1319.93 L1393.34,1319.23 L1393.85,1318.53 L1394.36,1317.84 L1394.88,1317.16 L1395.39,1316.48 L1395.90,1315.81 L1396.42,1315.15 L1396.93,1314.50 L1397.44,1313.85 L1397.96,1313.22 L1398.47,1312.59 L1398.99,1311.97 L1399.50,1311.35 L1400.01,1310.75 L1400.53,1310.15 L1401.04,1309.56 L1401.55,1308.98 L1402.07,1308.40 L1402.58,1307.84 L1403.10,1307.28 L1403.61,1306.73 L1404.12,1306.19 L1404.64,1305.65 L1405.15,1305.13 L1405.66,1304.61 L1406.18,1304.10 L1406.69,1303.60 L1407.21,1303.11 L1407.72,1302.63 L1408.23,1302.15 L1408.75,1301.68 L1409.26,1301.22 L1409.77,1300.77 L1410.29,1300.33 L1410.80,1299.90 L1411.31,1299.47 L1411.83,1299.05 L1412.34,1298.65 L1412.86,1298.25 L1413.37,1297.85 L1413.88,1297.47 L1414.40,1297.10 L1414.91,1296.73 L1415.42,1296.38 L1415.94,1296.03 L1416.45,1295.69 L1416.97,1295.36 L1417.48,1295.03 L1417.99,1294.72 L1418.51,1294.42 L1419.02,1294.12 L1419.53,1293.83 L1420.05,1293.55 L1420.56,1293.28 L1421.07,1293.02 L1421.59,1292.77 L1422.10,1292.53 L1422.62,1292.29 L1423.13,1292.07 L1423.64,1291.85 L1424.16,1291.64 L1424.67,1291.44 L1425.18,1291.25 L1425.70,1291.07 L1426.21,1290.90 L1426.73,1290.74 L1427.24,1290.58 L1427.75,1290.44 L1428.27,1290.30 L1428.78,1290.17 L1429.29,1290.05 L1429.81,1289.94 L1430.32,1289.84 L1430.84,1289.75 L1431.35,1289.67 L1431.86,1289.59 L1432.38,1289.53 L1432.89,1289.47 L1433.40,1289.43 L1433.92,1289.39 L1434.43,1289.36 L1434.94,1289.34 L1435.46,1289.33 L1435.97,1289.33 L1436.49,1289.33 L1437.00,1289.35 L1437.51,1289.37 L1438.03,1289.41 L1438.54,1289.45 L1439.05,1289.50 L1439.57,1289.56 L1440.08,1289.63 L1440.60,1289.71 L1441.11,1289.80 L1441.62,1289.90 L1442.14,1290.00 L1442.65,1290.12 L1443.16,1290.24 L1443.68,1290.37 L1444.19,1290.52 L1444.70,1290.67 L1445.22,1290.83 L1445.73,1290.99 L1446.25,1291.17 L1446.76,1291.36 L1447.27,1291.55 L1447.79,1291.76 L1448.30,1291.97 L1448.81,1292.19 L1449.33,1292.42 L1449.84,1292.66 L1450.36,1292.91 L1450.87,1293.17 L1451.38,1293.43 L1451.90,1293.71 L1452.41,1293.99 L1452.92,1294.28 L1453.44,1294.58 L1453.95,1294.89 L1454.47,1295.21 L1454.98,1295.54 L1455.49,1295.87 L1456.01,1296.22 L1456.52,1296.57 L1457.03,1296.93 L1457.55,1297.30 L1458.06,1297.68 L1458.57,1298.07 L1459.09,1298.47 L1459.60,1298.87 L1460.12,1299.28 L1460.63,1299.70 L1461.14,1300.13 L1461.66,1300.57 L1462.17,1301.02 L1462.68,1301.48 L1463.20,1301.94 L1463.71,1302.41 L1464.23,1302.89 L1464.74,1303.38 L1465.25,1303.88 L1465.77,1304.38 L1466.28,1304.90 L1466.79,1305.42 L1467.31,1305.95 L1467.82,1306.49 L1468.33,1307.03 L1468.85,1307.59 L1469.36,1308.15 L1469.88,1308.72 L1470.39,1309.30 L1470.90,1309.88 L1471.42,1310.48 L1471.93,1311.08 L1472.44,1311.69 L1472.96,1312.31 L1473.47,1312.93 L1473.99,1313.57 L1474.50,1314.21 L1475.01,1314.86 L1475.53,1315.52 L1476.04,1316.18 L1476.55,1316.85 L1477.07,1317.53 L1477.58,1318.22 L1478.10,1318.91 L1478.61,1319.62 L1479.12,1320.33 L1479.64,1321.04 L1480.15,1321.77 L1480.66,1322.50 L1481.18,1323.24 L1481.69,1323.99 L1482.20,1324.74 L1482.72,1325.50 L1483.23,1326.27 L1483.75,1327.05 L1484.26,1327.83 L1484.77,1328.62 L1485.29,1329.41 L1485.80,1330.22 L1486.31,1331.03 L1486.83,1331.85 L1487.34,1332.67 L1487.86,1333.50 L1488.37,1334.34 L1488.88,1335.18 L1489.40,1336.03 L1489.91,1336.89 L1490.42,1337.76 L1490.94,1338.63 L1491.45,1339.51 L1491.96,1340.39 L1492.48,1341.28 L1492.99,1342.18 L1493.51,1343.08 L1494.02,1343.99 L1494.53,1344.91 L1495.05,1345.83 L1495.56,1346.75 L1496.07,1347.69 L1496.59,1348.63 L1497.10,1349.58 L1497.62,1350.53 L1498.13,1351.49 L1498.64,1352.45 L1499.16,1353.42 L1499.67,1354.39 L1500.18,1355.38 L1500.70,1356.36 L1501.21,1357.35 L1501.73,1358.35 L1502.24,1359.36 L1502.75,1360.37 L1503.27,1361.38 L1503.78,1362.40 L1504.29,1363.42 L1504.81,1364.45 L1505.32,1365.49 L1505.83,1366.53 L1506.35,1367.58 L1506.86,1368.63 L1507.38,1369.68 L1507.89,1370.74 L1508.40,1371.81 L1508.92,1372.88 L1509.43,1373.96 L1509.94,1375.04 L1510.46,1376.12 L1510.97,1377.21 L1511.49,1378.30 L1512.00,1379.40 L1512.51,1380.50 L1513.03,1381.61 L1513.54,1382.72 L1514.05,1383.84 L1514.57,1384.96 L1515.08,1386.08 L1515.59,1387.21 L1516.11,1388.34 L1516.62,1389.48 L1517.14,1390.62 L1517.65,1391.76 L1518.16,1392.91 L1518.68,1394.06 L1519.19,1395.22 L1519.70,1396.38 L1520.22,1397.54 L1520.73,1398.71 L1521.25,1399.88 L1521.76,1401.05 L1522.27,1402.23 L1522.79,1403.41 L1523.30,1404.59 L1523.81,1405.78 L1524.33,1406.97 L1524.84,1408.16 L1525.36,1409.35 L1525.87,1410.55 L1526.38,1411.75 L1526.90,1412.96 L1527.41,1414.17 L1527.92,1415.37 L1528.44,1416.59 L1528.95,1417.80 L1529.46,1419.02 L1529.98,1420.24 L1530.49,1421.46 L1531.01,1422.69 L1531.52,1423.91 L1532.03,1425.14 L1532.55,1426.37 L1533.06,1427.61 L1533.57,1428.84 L1534.09,1430.08 L1534.60,1431.32 L1535.12,1432.56 L1535.63,1433.80 L1536.14,1435.05 L1536.66,1436.29 L1537.17,1437.54 L1537.68,1438.79 L1538.20,1440.04 L1538.71,1441.29 L1539.22,1442.54 L1539.74,1443.80 L1540.25,1445.05 L1540.77,1446.31 L1541.28,1447.57 L1541.79,1448.83 L1542.31,1450.09 L1542.82,1451.35 L1543.33,1452.61 L1543.85,1453.87 L1544.36,1455.14 L1544.88,1456.40 L1545.39,1457.66 L1545.90,1458.93 L1546.42,1460.19 L1546.93,1461.46 L1547.44,1462.73 L1547.96,1463.99 L1548.47,1465.26 L1548.99,1466.53 L1549.50,1467.79 L1550.01,1469.06 L1550.53,1470.33 L1551.04,1471.59 L1551.55,1472.86 L1552.07,1474.12 L1552.58,1475.39 L1553.09,1476.65 L1553.61,1477.92 L1554.12,1479.18 L1554.64,1480.45 L1555.15,1481.71 L1555.66,1482.97 L1556.18,1484.23 L1556.69,1485.49 L1557.20,1486.75 L1557.72,1488.01 L1558.23,1489.27 L1558.75,1490.53 L1559.26,1491.78 L1559.77,1493.04 L1560.29,1494.29 L1560.80,1495.54 L1561.31,1496.79 L1561.83,1498.04 L1562.34,1499.29 L1562.85,1500.53 L1563.37,1501.78 L1563.88,1503.02 L1564.40,1504.26 L1564.91,1505.50 L1565.42,1506.74 L1565.94,1507.97 L1566.45,1509.21 L1566.96,1510.44 L1567.48,1511.66 L1567.99,1512.89 L1568.51,1514.11 L1569.02,1515.34 L1569.53,1516.56 L1570.05,1517.77 L1570.56,1518.99 L1571.07,1520.20 L1571.59,1521.41 L1572.10,1522.61 L1572.61,1523.82 L1573.13,1525.02 L1573.64,1526.22 L1574.16,1527.41 L1574.67,1528.60 L1575.18,1529.79 L1575.70,1530.98 L1576.21,1532.16 L1576.72,1533.34 L1577.24,1534.52 L1577.75,1535.69 L1578.27,1536.86 L1578.78,1538.02 L1579.29,1539.19 L1579.81,1540.34 L1580.32,1541.50 L1580.83,1542.65 L1581.35,1543.80 L1581.86,1544.94 L1582.38,1546.08 L1582.89,1547.22 L1583.40,1548.35 L1583.92,1549.48 L1584.43,1550.60 L1584.94,1551.72 L1585.46,1552.83 L1585.97,1553.94 L1586.48,1555.05 L1587.00,1556.15 L1587.51,1557.25 L1588.03,1558.34 L1588.54,1559.43 L1589.05,1560.51 L1589.57,1561.59 L1590.08,1562.67 L1590.59,1563.74 L1591.11,1564.80 L1591.62,1565.86 L1592.14,1566.92 L1592.65,1567.97 L1593.16,1569.01 L1593.68,1570.05 L1594.19,1571.09 L1594.70,1572.12 L1595.22,1573.14 L1595.73,1574.16 L1596.24,1575.17 L1596.76,1576.18 L1597.27,1577.18 L1597.79,1578.18 L1598.30,1579.17 L1598.81,1580.16 L1599.33,1581.14 L1599.84,1582.11 L1600.35,1583.08 L1600.87,1584.04 L1601.38,1585.00 L1601.90,1585.95 L1602.41,1586.90 L1602.92,1587.83 L1603.44,1588.77 L1603.95,1589.69 L1604.46,1590.61 L1604.98,1591.53 L1605.49,1592.44 L1606.01,1593.34 L1606.52,1594.24 L1607.03,1595.12 L1607.55,1596.01 L1608.06,1596.88 L1608.57,1597.75 L1609.09,1598.62 L1609.60,1599.47 L1610.11,1600.32 L1610.63,1601.17 L1611.14,1602.00 L1611.66,1602.83 L1612.17,1603.66 L1612.68,1604.47 L1613.20,1605.28 L1613.71,1606.08 L1614.22,1606.88 L1614.74,1607.67 L1615.25,1608.45 L1615.77,1609.22 L1616.28,1609.99 L1616.79,1610.75 L1617.31,1611.50 L1617.82,1612.25 L1618.33,1612.99 L1618.85,1613.72 L1619.36,1614.44 L1619.87,1615.16 L1620.39,1615.86 L1620.90,1616.56 L1621.42,1617.26 L1621.93,1617.94 L1622.44,1618.62 L1622.96,1619.29 L1623.47,1619.96 L1623.98,1620.61 L1624.50,1621.26 L1625.01,1621.90 L1625.53,1622.53 L1626.04,1623.16 L1626.55,1623.77 L1627.07,1624.38 L1627.58,1624.98 L1628.09,1625.58 L1628.61,1626.16 L1629.12,1626.74 L1629.64,1627.31 L1630.15,1627.87 L1630.66,1628.42 L1631.18,1628.96 L1631.69,1629.50 L1632.20,1630.03 L1632.72,1630.55 L1633.23,1631.06 L1633.74,1631.57 L1634.26,1632.06 L1634.77,1632.55 L1635.29,1633.03 L1635.80,1633.50 L1636.31,1633.96 L1636.83,1634.41 L1637.34,1634.86 L1637.85,1635.30 L1638.37,1635.72 L1638.88,1636.14 L1639.40,1636.56 L1639.91,1636.96 L1640.42,1637.35 L1640.94,1637.74 L1641.45,1638.12 L1641.96,1638.48 L1642.48,1638.84 L1642.99,1639.20 L1643.50,1639.54 L1644.02,1639.87 L1644.53,1640.20 L1645.05,1640.52 L1645.56,1640.82 L1646.07,1641.12 L1646.59,1641.41 L1647.10,1641.70 L1647.61,1641.97 L1648.13,1642.23 L1648.64,1642.49 L1649.16,1642.73 L1649.67,1642.97 L1650.18,1643.20 L1650.70,1643.42 L1651.21,1643.63 L1651.72,1643.83 L1652.24,1644.03 L1652.75,1644.21 L1653.27,1644.39 L1653.78,1644.56 L1654.29,1644.71 L1654.81,1644.86 L1655.32,1645.00 L1655.83,1645.13 L1656.35,1645.25 L1656.86,1645.37 L1657.37,1645.47 L1657.89,1645.57 L1658.40,1645.65 L1658.92,1645.73 L1659.43,1645.80 L1659.94,1645.86 L1660.46,1645.91 L1660.97,1645.95 L1661.48,1645.98 L1662.00,1646.01 L1662.51,1646.02 L1663.03,1646.02 L1663.54,1646.02 L1664.05,1646.01 L1664.57,1645.99 L1665.08,1645.96 L1665.59,1645.92 L1666.11,1645.87 L1666.62,1645.81 L1667.13,1645.74 L1667.65,1645.67 L1668.16,1645.58 L1668.68,1645.49 L1669.19,1645.39 L1669.70,1645.28 L1670.22,1645.16 L1670.73,1645.03 L1671.24,1644.89 L1671.76,1644.74 L1672.27,1644.58 L1672.79,1644.42 L1673.30,1644.25 L1673.81,1644.06 L1674.33,1643.87 L1674.84,1643.67 L1675.35,1643.46 L1675.87,1643.24 L1676.38,1643.01 L1676.90,1642.78 L1677.41,1642.53 L1677.92,1642.28 L1678.44,1642.02 L1678.95,1641.75 L1679.46,1641.47 L1679.98,1641.18 L1680.49,1640.88 L1681.00,1640.57 L1681.52,1640.26 L1682.03,1639.93 L1682.55,1639.60 L1683.06,1639.26 L1683.57,1638.91 L1684.09,1638.55 L1684.60,1638.18 L1685.11,1637.81 L1685.63,1637.42 L1686.14,1637.03 L1686.66,1636.63 L1687.17,1636.22 L1687.68,1635.80 L1688.20,1635.37 L1688.71,1634.94 L1689.22,1634.50 L1689.74,1634.04 L1690.25,1633.58 L1690.76,1633.11 L1691.28,1632.64 L1691.79,1632.15 L1692.31,1631.66 L1692.82,1631.15 L1693.33,1630.64 L1693.85,1630.12 L1694.36,1629.60 L1694.87,1629.06 L1695.39,1628.52 L1695.90,1627.97 L1696.42,1627.41 L1696.93,1626.84 L1697.44,1626.27 L1697.96,1625.68 L1698.47,1625.09 L1698.98,1624.49 L1699.50,1623.88 L1700.01,1623.27 L1700.53,1622.65 L1701.04,1622.02 L1701.55,1621.38 L1702.07,1620.73 L1702.58,1620.08 L1703.09,1619.42 L1703.61,1618.75 L1704.12,1618.07 L1704.63,1617.38 L1705.15,1616.69 L1705.66,1615.99 L1706.18,1615.29 L1706.69,1614.57 L1707.20,1613.85 L1707.72,1613.12 L1708.23,1612.38 L1708.74,1611.64 L1709.26,1610.89 L1709.77,1610.13 L1710.29,1609.36 L1710.80,1608.59 L1711.31,1607.81 L1711.83,1607.02 L1712.34,1606.23 L1712.85,1605.43 L1713.37,1604.62 L1713.88,1603.81 L1714.39,1602.98 L1714.91,1602.15 L1715.42,1601.32 L1715.94,1600.48 L1716.45,1599.63 L1716.96,1598.77 L1717.48,1597.91 L1717.99,1597.04 L1718.50,1596.17 L1719.02,1595.29 L1719.53,1594.40 L1720.05,1593.50 L1720.56,1592.60 L1721.07,1591.70 L1721.59,1590.78 L1722.10,1589.86 L1722.61,1588.94 L1723.13,1588.00 L1723.64,1587.07 L1724.16,1586.12 L1724.67,1585.17 L1725.18,1584.22 L1725.70,1583.26 L1726.21,1582.29 L1726.72,1581.31 L1727.24,1580.34 L1727.75,1579.35 L1728.26,1578.36 L1728.78,1577.36 L1729.29,1576.36 L1729.81,1575.36 L1730.32,1574.34 L1730.83,1573.33 L1731.35,1572.30 L1731.86,1571.27 L1732.37,1570.24 L1732.89,1569.20 L1733.40,1568.16 L1733.92,1567.11 L1734.43,1566.06 L1734.94,1565.00 L1735.46,1563.93 L1735.97,1562.86 L1736.48,1561.79 L1737.00,1560.71 L1737.51,1559.63 L1738.02,1558.54 L1738.54,1557.45 L1739.05,1556.35 L1739.57,1555.25 L1740.08,1554.15 L1740.59,1553.04 L1741.11,1551.92 L1741.62,1550.80 L1742.13,1549.68 L1742.65,1548.55 L1743.16,1547.42 L1743.68,1546.29 L1744.19,1545.15 L1744.70,1544.01 L1745.22,1542.86 L1745.73,1541.71 L1746.24,1540.55 L1746.76,1539.40 L1747.27,1538.24 L1747.79,1537.07 L1748.30,1535.90 L1748.81,1534.73 L1749.33,1533.55 L1749.84,1532.38 L1750.35,1531.19 L1750.87,1530.01 L1751.38,1528.82 L1751.89,1527.63 L1752.41,1526.43 L1752.92,1525.24 L1753.44,1524.04 L1753.95,1522.83 L1754.46,1521.63 L1754.98,1520.42 L1755.49,1519.21 L1756.00,1517.99 L1756.52,1516.78 L1757.03,1515.56 L1757.55,1514.34 L1758.06,1513.11 L1758.57,1511.89 L1759.09,1510.66 L1759.60,1509.43 L1760.11,1508.20 L1760.63,1506.96 L1761.14,1505.73 L1761.65,1504.49 L1762.17,1503.25 L1762.68,1502.01 L1763.20,1500.76 L1763.71,1499.52 L1764.22,1498.27 L1764.74,1497.02 L1765.25,1495.77 L1765.76,1494.52 L1766.28,1493.27 L1766.79,1492.01 L1767.31,1490.76 L1767.82,1489.50 L1768.33,1488.24 L1768.85,1486.98 L1769.36,1485.72 L1769.87,1484.46 L1770.39,1483.20 L1770.90,1481.94 L1771.41,1480.68 L1771.93,1479.41 L1772.44,1478.15 L1772.96,1476.89 L1773.47,1475.62 L1773.98,1474.35 L1774.50,1473.09 L1775.01,1471.82 L1775.52,1470.56 L1776.04,1469.29 L1776.55,1468.02 L1777.07,1466.76 L1777.58,1465.49 L1778.09,1464.22 L1778.61,1462.96 L1779.12,1461.69 L1779.63,1460.43 L1780.15,1459.16 L1780.66,1457.90 L1781.18,1456.63 L1781.69,1455.37 L1782.20,1454.10 L1782.72,1452.84 L1783.23,1451.58 L1783.74,1450.32 L1784.26,1449.06 L1784.77,1447.80 L1785.28,1446.54 L1785.80,1445.28 L1786.31,1444.03 L1786.83,1442.77 L1787.34,1441.52 L1787.85,1440.27 L1788.37,1439.02 L1788.88,1437.77 L1789.39,1436.52 L1789.91,1435.27 L1790.42,1434.03 L1790.94,1432.78 L1791.45,1431.54 L1791.96,1430.30 L1792.48,1429.07 L1792.99,1427.83 L1793.50,1426.60 L1794.02,1425.37 L1794.53,1424.14 L1795.04,1422.91 L1795.56,1421.68 L1796.07,1420.46 L1796.59,1419.24 L1797.10,1418.02 L1797.61,1416.81 L1798.13,1415.60 L1798.64,1414.39 L1799.15,1413.18 L1799.67,1411.97 L1800.18,1410.77 L1800.70,1409.57 L1801.21,1408.38 L1801.72,1407.18 L1802.24,1405.99 L1802.75,1404.81 L1803.26,1403.62 L1803.78,1402.44 L1804.29,1401.27 L1804.81,1400.09 L1805.32,1398.92 L1805.83,1397.75 L1806.35,1396.59 L1806.86,1395.43 L1807.37,1394.27 L1807.89,1393.12 L1808.40,1391.97 L1808.91,1390.83 L1809.43,1389.69 L1809.94,1388.55 L1810.46,1387.42 L1810.97,1386.29 L1811.48,1385.16 L1812.00,1384.04 L1812.51,1382.93 L1813.02,1381.81 L1813.54,1380.71 L1814.05,1379.60 L1814.57,1378.50 L1815.08,1377.41 L1815.59,1376.32 L1816.11,1375.23 L1816.62,1374.15 L1817.13,1373.08 L1817.65,1372.00 L1818.16,1370.94 L1818.67,1369.88 L1819.19,1368.82 L1819.70,1367.77 L1820.22,1366.72 L1820.73,1365.68 L1821.24,1364.64 L1821.76,1363.61 L1822.27,1362.59 L1822.78,1361.56 L1823.30,1360.55 L1823.81,1359.54 L1824.33,1358.54 L1824.84,1357.54 L1825.35,1356.54 L1825.87,1355.55 L1826.38,1354.57 L1826.89,1353.60 L1827.41,1352.63 L1827.92,1351.66 L1828.44,1350.70 L1828.95,1349.75 L1829.46,1348.80 L1829.98,1347.86 L1830.49,1346.92 L1831.00,1346.00 L1831.52,1345.07 L1832.03,1344.16 L1832.54,1343.25 L1833.06,1342.34 L1833.57,1341.44 L1834.09,1340.55 L1834.60,1339.67 L1835.11,1338.79 L1835.63,1337.92 L1836.14,1337.05 L1836.65,1336.19 L1837.17,1335.34 L1837.68,1334.49 L1838.20,1333.65 L1838.71,1332.82 L1839.22,1332.00 L1839.74,1331.18 L1840.25,1330.37 L1840.76,1329.56 L1841.28,1328.76 L1841.79,1327.97 L1842.30,1327.19 L1842.82,1326.41 L1843.33,1325.64 L1843.85,1324.88 L1844.36,1324.12 L1844.87,1323.38 L1845.39,1322.63 L1845.90,1321.90 L1846.41,1321.18 L1846.93,1320.46 L1847.44,1319.75 L1847.96,1319.04 L1848.47,1318.35 L1848.98,1317.66 L1849.50,1316.98 L1850.01,1316.30 L1850.52,1315.64 L1851.04,1314.98 L1851.55,1314.33 L1852.07,1313.68 L1852.58,1313.05 L1853.09,1312.42 L1853.61,1311.80 L1854.12,1311.19 L1854.63,1310.59 L1855.15,1309.99 L1855.66,1309.40 L1856.17,1308.82 L1856.69,1308.25 L1857.20,1307.69 L1857.72,1307.13 L1858.23,1306.58 L1858.74,1306.04 L1859.26,1305.51 L1859.77,1304.99 L1860.28,1304.48 L1860.80,1303.97 L1861.31,1303.47 L1861.83,1302.98 L1862.34,1302.50 L1862.85,1302.02 L1863.37,1301.56 L1863.88,1301.10 L1864.39,1300.65 L1864.91,1300.21 L1865.42,1299.78 L1865.93,1299.36 L1866.45,1298.94 L1866.96,1298.54 L1867.48,1298.14 L1867.99,1297.75 L1868.50,1297.37 L1869.02,1297.00 L1869.53,1296.64 L1870.04,1296.28 L1870.56,1295.94 L1871.07,1295.60 L1871.59,1295.27 L1872.10,1294.95 L1872.61,1294.64 L1873.13,1294.34 L1873.64,1294.04 L1874.15,1293.76 L1874.67,1293.48 L1875.18,1293.21 L1875.70,1292.96 L1876.21,1292.71 L1876.72,1292.46 L1877.24,1292.23 L1877.75,1292.01 L1878.26,1291.79 L1878.78,1291.59 L1879.29,1291.39 L1879.80,1291.20 L1880.32,1291.03 L1880.83,1290.86 L1881.35,1290.69 L1881.86,1290.54 L1882.37,1290.40 L1882.89,1290.26 L1883.40,1290.14 L1883.91,1290.02 L1884.43,1289.92 L1884.94,1289.82 L1885.46,1289.73 L1885.97,1289.65 L1886.48,1289.58 L1887.00,1289.51 L1887.51,1289.46 L1888.02,1289.41 L1888.54,1289.38 L1889.05,1289.35 L1889.56,1289.33 L1890.08,1289.33 L1890.59,1289.33 L1891.11,1289.34 L1891.62,1289.35 L1892.13,1289.38 L1892.65,1289.42 L1893.16,1289.46 L1893.67,1289.52 L1894.19,1289.58 L1894.70,1289.65 L1895.22,1289.73 L1895.73,1289.82 L1896.24,1289.92 L1896.76,1290.03 L1897.27,1290.15 L1897.78,1290.28 L1898.30,1290.41 L1898.81,1290.55 L1899.33,1290.71 L1899.84,1290.87 L1900.35,1291.04 L1900.87,1291.22 L1901.38,1291.41 L1901.89,1291.61 L1902.41,1291.81 L1902.92,1292.03 L1903.43,1292.25 L1903.95,1292.48 L1904.46,1292.73 L1904.98,1292.98 L1905.49,1293.24 L1906.00,1293.50 L1906.52,1293.78 L1907.03,1294.07 L1907.54,1294.36 L1908.06,1294.66 L1908.57,1294.98 L1909.09,1295.30 L1909.60,1295.63 L1910.11,1295.96 L1910.63,1296.31 L1911.14,1296.67 L1911.65,1297.03 L1912.17,1297.40 L1912.68,1297.78 L1913.19,1298.17 L1913.71,1298.57 L1914.22,1298.98 L1914.74,1299.39 L1915.25,1299.82 L1915.76,1300.25 L1916.28,1300.69 L1916.79,1301.14 L1917.30,1301.60 L1917.82,1302.06 L1918.33,1302.54 L1918.85,1303.02 L1919.36,1303.51 L1919.87,1304.01 L1920.39,1304.52 L1920.90,1305.03 L1921.41,1305.56 L1921.93,1306.09 L1922.44,1306.63 L1922.96,1307.18 L1923.47,1307.73 L1923.98,1308.30 L1924.50,1308.87 L1925.01,1309.45 L1925.52,1310.04 L1926.04,1310.64 L1926.55,1311.24 L1927.06,1311.85 L1927.58,1312.47 L1928.09,1313.10 L1928.61,1313.74 L1929.12,1314.38 L1929.63,1315.03 L1930.15,1315.69 L1930.66,1316.36 L1931.17,1317.03 L1931.69,1317.71 L1932.20,1318.40 L1932.72,1319.10 L1933.23,1319.80 L1933.74,1320.52 L1934.26,1321.24 L1934.77,1321.96 L1935.28,1322.70 L1935.80,1323.44 L1936.31,1324.19 L1936.82,1324.94 L1937.34,1325.71 L1937.85,1326.48 L1938.37,1327.25 L1938.88,1328.04 L1939.39,1328.83 L1939.91,1329.63 L1940.42,1330.43 L1940.93,1331.24 L1941.45,1332.06 L1941.96,1332.89 L1942.48,1333.72 L1942.99,1334.56 L1943.50,1335.41 L1944.02,1336.26 L1944.53,1337.12 L1945.04,1337.99 L1945.56,1338.86 L1946.07,1339.74 L1946.59,1340.63 L1947.10,1341.52 L1947.61,1342.42 L1948.13,1343.32 L1948.64,1344.23 L1949.15,1345.15 L1949.67,1346.07 L1950.18,1347.00 L1950.69,1347.94 L1951.21,1348.88 L1951.72,1349.83 L1952.24,1350.78 L1952.75,1351.74 L1953.26,1352.71 L1953.78,1353.68 L1954.29,1354.65 L1954.80,1355.64 L1955.32,1356.63 L1955.83,1357.62 L1956.35,1358.62 L1956.86,1359.62 L1957.37,1360.63 L1957.89,1361.65 L1958.40,1362.67 L1958.91,1363.70 L1959.43,1364.73 L1959.94,1365.77 L1960.45,1366.81 L1960.97,1367.86 L1961.48,1368.91 L1962.00,1369.96 L1962.51,1371.03 L1963.02,1372.09 L1963.54,1373.17 L1964.05,1374.24 L1964.56,1375.32 L1965.08,1376.41 L1965.59,1377.50 L1966.11,1378.59 L1966.62,1379.69 L1967.13,1380.80 L1967.65,1381.91 L1968.16,1383.02 L1968.67,1384.14 L1969.19,1385.26 L1969.70,1386.38 L1970.21,1387.51 L1970.73,1388.65 L1971.24,1389.78 L1971.76,1390.92 L1972.27,1392.07 L1972.78,1393.22 L1973.30,1394.37 L1973.81,1395.53 L1974.32,1396.69 L1974.84,1397.85 L1975.35,1399.02 L1975.87,1400.19 L1976.38,1401.36 L1976.89,1402.54 L1977.41,1403.72 L1977.92,1404.91 L1978.43,1406.09 L1978.95,1407.28 L1979.46,1408.48 L1979.98,1409.67 L1980.49,1410.87 L1981.00,1412.07 L1981.52,1413.28 L1982.03,1414.49 L1982.54,1415.70 L1983.06,1416.91 L1983.57,1418.13 L1984.08,1419.34 L1984.60,1420.56 L1985.11,1421.79 L1985.63,1423.01 L1986.14,1424.24 L1986.65,1425.47 L1987.17,1426.70 L1987.68,1427.93 L1988.19,1429.17 L1988.71,1430.41 L1989.22,1431.65 L1989.74,1432.89 L1990.25,1434.13 L1990.76,1435.38 L1991.28,1436.62 L1991.79,1437.87 L1992.30,1439.12 L1992.82,1440.37 L1993.33,1441.62 L1993.84,1442.88 L1994.36,1444.13 L1994.87,1445.39 L1995.39,1446.65 L1995.90,1447.90 L1996.41,1449.16 L1996.93,1450.42 L1997.44,1451.68 L1997.95,1452.95 L1998.47,1454.21 L1998.98,1455.47 L1999.50,1456.74 L2000.01,1458.00 L2000.52,1459.27 L2001.04,1460.53 L2001.55,1461.80 L2002.06,1463.06 L2002.58,1464.33 L2003.09,1465.60 L2003.61,1466.86 L2004.12,1468.13 L2004.63,1469.40 L2005.15,1470.66 L2005.66,1471.93 L2006.17,1473.19 L2006.69,1474.46 L2007.20,1475.73 L2007.71,1476.99 L2008.23,1478.26 L2008.74,1479.52 L2009.26,1480.78 L2009.77,1482.05 L2010.28,1483.31 L2010.80,1484.57 L2011.31,1485.83 L2011.82,1487.09 L2012.34,1488.35 L2012.85,1489.61 L2013.37,1490.86 L2013.88,1492.12 L2014.39,1493.37 L2014.91,1494.62 L2015.42,1495.87 L2015.93,1497.12 L2016.45,1498.37 L2016.96,1499.62 L2017.47,1500.87 L2017.99,1502.11 L2018.50,1503.35 L2019.02,1504.59 L2019.53,1505.83 L2020.04,1507.07 L2020.56,1508.30 L2021.07,1509.53 L2021.58,1510.76 L2022.10,1511.99 L2022.61,1513.22 L2023.13,1514.44 L2023.64,1515.66 L2024.15,1516.88 L2024.67,1518.10 L2025.18,1519.31 L2025.69,1520.52 L2026.21,1521.73 L2026.72,1522.93 L2027.24,1524.14 L2027.75,1525.34 L2028.26,1526.53 L2028.78,1527.73 L2029.29,1528.92 L2029.80,1530.11 L2030.32,1531.29 L2030.83,1532.47 L2031.34,1533.65 L2031.86,1534.83 L2032.37,1536.00 L2032.89,1537.17 L2033.40,1538.33 L2033.91,1539.49 L2034.43,1540.65 L2034.94,1541.80 L2035.45,1542.95 L2035.97,1544.10 L2036.48,1545.24 L2037.00,1546.38 L2037.51,1547.52 L2038.02,1548.65 L2038.54,1549.77 L2039.05,1550.90 L2039.56,1552.01 L2040.08,1553.13 L2040.59,1554.24 L2041.10,1555.34 L2041.62,1556.44 L2042.13,1557.54 L2042.65,1558.63 L2043.16,1559.72 L2043.67,1560.80 L2044.19,1561.88 L2044.70,1562.95 L2045.21,1564.02 L2045.73,1565.08 L2046.24,1566.14 L2046.76,1567.20 L2047.27,1568.25 L2047.78,1569.29 L2048.30,1570.33 L2048.81,1571.36 L2049.32,1572.39 L2049.84,1573.41 L2050.35,1574.43 L2050.87,1575.44 L2051.38,1576.45 L2051.89,1577.45 L2052.41,1578.44 L2052.92,1579.43 L2053.43,1580.42 L2053.95,1581.40 L2054.46,1582.37 L2054.97,1583.34 L2055.49,1584.30 L2056.00,1585.25 L2056.52,1586.20 L2057.03,1587.15 L2057.54,1588.08 L2058.06,1589.01 L2058.57,1589.94 L2059.08,1590.86 L2059.60,1591.77 L2060.11,1592.68 L2060.63,1593.58 L2061.14,1594.47 L2061.65,1595.36 L2062.17,1596.24 L2062.68,1597.12 L2063.19,1597.98 L2063.71,1598.84 L2064.22,1599.70 L2064.73,1600.55 L2065.25,1601.39 L2065.76,1602.22 L2066.28,1603.05 L2066.79,1603.87 L2067.30,1604.69 L2067.82,1605.49 L2068.33,1606.30 L2068.84,1607.09 L2069.36,1607.88 L2069.87,1608.65 L2070.39,1609.43 L2070.90,1610.19 L2071.41,1610.95 L2071.93,1611.70 L2072.44,1612.44 L2072.95,1613.18 L2073.47,1613.91 L2073.98,1614.63 L2074.50,1615.34 L2075.01,1616.05 L2075.52,1616.75 L2076.04,1617.44 L2076.55,1618.13 L2077.06,1618.80 L2077.58,1619.47 L2078.09,1620.13 L2078.60,1620.79 L2079.12,1621.43 L2079.63,1622.07 L2080.15,1622.70 L2080.66,1623.32 L2081.17,1623.94 L2081.69,1624.54 L2082.20,1625.14 L2082.71,1625.73 L2083.23,1626.31 L2083.74,1626.89 L2084.26,1627.46 L2084.77,1628.01 L2085.28,1628.57 L2085.80,1629.11 L2086.31,1629.64 L2086.82,1630.17 L2087.34,1630.69 L2087.85,1631.20 L2088.36,1631.70 L2088.88,1632.19 L2089.39,1632.68 L2089.91,1633.15 L2090.42,1633.62 L2090.93,1634.08 L2091.45,1634.53 L2091.96,1634.98 L2092.47,1635.41 L2092.99,1635.84 L2093.50,1636.25 L2094.02,1636.66 L2094.53,1637.06 L2095.04,1637.46 L2095.56,1637.84 L2096.07,1638.21 L2096.58,1638.58 L2097.10,1638.94 L2097.61,1639.29 L2098.13,1639.63 L2098.64,1639.96 L2099.15,1640.28 L2099.67,1640.60 L2100.18,1640.90 L2100.69,1641.20 L2101.21,1641.49 L2101.72,1641.77 L2102.23,1642.04 L2102.75,1642.30 L2103.26,1642.55 L2103.78,1642.80 L2104.29,1643.03 L2104.80,1643.26 L2105.32,1643.48 L2105.83,1643.69 L2106.34,1643.89 L2106.86,1644.08 L2107.37,1644.26 L2107.89,1644.43 L2108.40,1644.60 L2108.91,1644.75 L2109.43,1644.90 L2109.94,1645.04 L2110.45,1645.17 L2110.97,1645.29 L2111.48,1645.40 L2111.99,1645.50 L2112.51,1645.59 L2113.02,1645.67 L2113.54,1645.75 L2114.05,1645.82 L2114.56,1645.87 L2115.08,1645.92 L2115.59,1645.96 L2116.10,1645.99 L2116.62,1646.01 L2117.13,1646.02 L2117.65,1646.02 L2118.16,1646.02 L2118.67,1646.00 L2119.19,1645.98 L2119.70,1645.95 L2120.21,1645.90 L2120.73,1645.85 L2121.24,1645.79 L2121.76,1645.72 L2122.27,1645.65 L2122.78,1645.56 L2123.30,1645.46 L2123.81,1645.36 L2124.32,1645.24 L2124.84,1645.12 L2125.35,1644.99 L2125.86,1644.85 L2126.38,1644.70 L2126.89,1644.54 L2127.41,1644.37 L2127.92,1644.20 L2128.43,1644.01 L2128.95,1643.82 L2129.46,1643.62 L2129.97,1643.40 L2130.49,1643.18 L2131.00,1642.95 L2131.52,1642.71 L2132.03,1642.47 L2132.54,1642.21 L2133.06,1641.95 L2133.57,1641.67 L2134.08,1641.39 L2134.60,1641.10 L2135.11,1640.80 L2135.62,1640.49 L2136.14,1640.17 L2136.65,1639.85 L2137.17,1639.51 L2137.68,1639.17 L2138.19,1638.82 L2138.71,1638.45 L2139.22,1638.08 L2139.73,1637.71 L2140.25,1637.32 L2140.76,1636.93 L2141.28,1636.52 L2141.79,1636.11 L2142.30,1635.69 L2142.82,1635.26 L2143.33,1634.82 L2143.84,1634.38 L2144.36,1633.92 L2144.87,1633.46 L2145.39,1632.99 L2145.90,1632.51 L2146.41,1632.02 L2146.93,1631.52 L2147.44,1631.02 L2147.95,1630.51 L2148.47,1629.99 L2148.98,1629.46 L2149.49,1628.92 L2150.01,1628.37 L2150.52,1627.82 L2151.04,1627.26 L2151.55,1626.69 L2152.06,1626.11 L2152.58,1625.53 L2153.09,1624.93 L2153.60,1624.33 L2154.12,1623.72 L2154.63,1623.11 L2155.15,1622.48 L2155.66,1621.85 L2156.17,1621.21 L2156.69,1620.56 L2157.20,1619.90 L2157.71,1619.24 L2158.23,1618.57 L2158.74,1617.89 L2159.25,1617.20 L2159.77,1616.51 L2160.28,1615.81 L2160.80,1615.10 L2161.31,1614.38 L2161.82,1613.66 L2162.34,1612.92 L2162.85,1612.19 L2163.36,1611.44 L2163.88,1610.69 L2164.39,1609.93 L2164.91,1609.16 L2165.42,1608.38 L2165.93,1607.60 L2166.45,1606.81 L2166.96,1606.02 L2167.47,1605.21 L2167.99,1604.40 L2168.50,1603.59 L2169.01,1602.76 L2169.53,1601.93 L2170.04,1601.10 L2170.56,1600.25 L2171.07,1599.40 L2171.58,1598.54 L2172.10,1597.68 L2172.61,1596.81 L2173.12,1595.93 L2173.64,1595.05 L2174.15,1594.16 L2174.67,1593.26 L2175.18,1592.36 L2175.69,1591.45 L2176.21,1590.54 L2176.72,1589.62 L2177.23,1588.69 L2177.75,1587.76 L2178.26,1586.82 L2178.78,1585.87 L2179.29,1584.92 L2179.80,1583.96 L2180.32,1583.00 L2180.83,1582.03 L2181.34,1581.06 L2181.86,1580.07 L2182.37,1579.09 L2182.88,1578.10 L2183.40,1577.10 L2183.91,1576.10 L2184.43,1575.09 L2184.94,1574.07 L2185.45,1573.05 L2185.97,1572.03 L2186.48,1571.00 L2186.99,1569.97 L2187.51,1568.93 L2188.02,1567.88 L2188.54,1566.83 L2189.05,1565.77 L2189.56,1564.71 L2190.08,1563.65 L2190.59,1562.58 L2191.10,1561.50 L2191.62,1560.42 L2192.13,1559.34 L2192.64,1558.25 L2193.16,1557.16 L2193.67,1556.06 L2194.19,1554.96 L2194.70,1553.85 L2195.21,1552.74 L2195.73,1551.62 L2196.24,1550.51 L2196.75,1549.38 L2197.27,1548.25 L2197.78,1547.12 L2198.30,1545.99 L2198.81,1544.85 L2199.32,1543.70 L2199.84,1542.55 L2200.35,1541.40 L2200.86,1540.25 L2201.38,1539.09 L2201.89,1537.93 L2202.41,1536.76 L2202.92,1535.59 L2203.43,1534.42 L2203.95,1533.24 L2204.46,1532.06 L2204.97,1530.88 L2205.49,1529.69 L2206.00,1528.50 L2206.51,1527.31 L2207.03,1526.12 L2207.54,1524.92 L2208.06,1523.72 L2208.57,1522.51 L2209.08,1521.31 L2209.60,1520.10 L2210.11,1518.89 L2210.62,1517.67 L2211.14,1516.45 L2211.65,1515.23 L2212.17,1514.01 L2212.68,1512.79 L2213.19,1511.56 L2213.71,1510.33 L2214.22,1509.10 L2214.73,1507.87 L2215.25,1506.63 L2215.76,1505.40 L2216.27,1504.16 L2216.79,1502.92 L2217.30,1501.68 L2217.82,1500.43 L2218.33,1499.19 L2218.84,1497.94 L2219.36,1496.69 L2219.87,1495.44 L2220.38,1494.19 L2220.90,1492.93 L2221.41,1491.68 L2221.93,1490.42 L2222.44,1489.17 L2222.95,1487.91 L2223.47,1486.65 L2223.98,1485.39 L2224.49,1484.13 L2225.01,1482.87 L2225.52,1481.61 L2226.04,1480.34 L2226.55,1479.08 L2227.06,1477.81 L2227.58,1476.55 L2228.09,1475.28 L2228.60,1474.02 L2229.12,1472.75 L2229.63,1471.49 L2230.14,1470.22 L2230.66,1468.95 L2231.17,1467.69 L2231.69,1466.42 L2232.20,1465.15 L2232.71,1463.89 L2233.23,1462.62 L2233.74,1461.35 L2234.25,1460.09 L2234.77,1458.82 L2235.28,1457.56 L2235.80,1456.29 L2236.31,1455.03 L2236.82,1453.77 L2237.34,1452.51 L2237.85,1451.24 L2238.36,1449.98 L2238.88,1448.72 L2239.39,1447.46 L2239.90,1446.21 L2240.42,1444.95 L2240.93,1443.69 L2241.45,1442.44 L2241.96,1441.19 L2242.47,1439.93 L2242.99,1438.68 L2243.50,1437.44 L2244.01,1436.19 L2244.53,1434.94 L2245.04,1433.70 L2245.56,1432.45 L2246.07,1431.21 L2246.58,1429.98 L2247.10,1428.74 L2247.61,1427.50 L2248.12,1426.27 L2248.64,1425.04 L2249.15,1423.81 L2249.67,1422.58 L2250.18,1421.36 L2250.69,1420.14 L2251.21,1418.92 L2251.72,1417.70 L2252.23,1416.49 L2252.75,1415.27 L2253.26,1414.06 L2253.77,1412.86 L2254.29,1411.65 L2254.80,1410.45 L2255.32,1409.25 L2255.83,1408.06 L2256.34,1406.87 L2256.86,1405.68 L2257.37,1404.49 L2257.88,1403.31 L2258.40,1402.13 L2258.91,1400.95 L2259.43,1399.78 L2259.94,1398.61 L2260.45,1397.45 L2260.97,1396.28 L2261.48,1395.12 L2261.99,1393.97 L2262.51,1392.82 L2263.02,1391.67 L2263.53,1390.53 L2264.05,1389.39 L2264.56,1388.25 L2265.08,1387.12 L2265.59,1385.99 L2266.10,1384.87 L2266.62,1383.75 L2267.13,1382.63 L2267.64,1381.52 L2268.16,1380.41 L2268.67,1379.31 L2269.19,1378.21 L2269.70,1377.12 L2270.21,1376.03 L2270.73,1374.95 L2271.24,1373.87 L2271.75,1372.79 L2272.27,1371.72 L2272.78,1370.66 L2273.30,1369.60 L2273.81,1368.54 L2274.32,1367.49 L2274.84,1366.44 L2275.35,1365.40 L2275.86,1364.37 L2276.38,1363.34 L2276.89,1362.31 L2277.40,1361.29 L2277.92,1360.28 L2278.43,1359.27 L2278.95,1358.27 L2279.46,1357.27 L2279.97,1356.28 L2280.49,1355.29 L2281.00,1354.31 L2281.51,1353.34 L2282.03,1352.37 L2282.54,1351.41 L2283.06,1350.45 L2283.57,1349.50 L2284.08,1348.55 L2284.60,1347.61 L2285.11,1346.68 L2285.62,1345.75 L2286.14,1344.83 L2286.65,1343.91 L2287.16,1343.00 L2287.68,1342.10 L2288.19,1341.21 L2288.71,1340.32 L2289.22,1339.43 L2289.73,1338.56 L2290.25,1337.68 L2290.76,1336.82 L2291.27,1335.96 L2291.79,1335.11 L2292.30,1334.27 L2292.82,1333.43 L2293.33,1332.60 L2293.84,1331.78 L2294.36,1330.96 L2294.87,1330.15 L2295.38,1329.35 L2295.90,1328.55 L2296.41,1327.76 L2296.93,1326.98 L2297.44,1326.21 L2297.95,1325.44 L2298.47,1324.68 L2298.98,1323.92 L2299.49,1323.18 L2300.01,1322.44 L2300.52,1321.71 L2301.03,1320.98 L2301.55,1320.27 L2302.06,1319.56 L2302.58,1318.86 L2303.09,1318.16 L2303.60,1317.47 L2304.12,1316.80 L2304.63,1316.12 L2305.14,1315.46 L2305.66,1314.80 L2306.17,1314.16 L2306.69,1313.51 L2307.20,1312.88 L2307.71,1312.26 L2308.23,1311.64 L2308.74,1311.03 L2309.25,1310.43 L2309.77,1309.83 L2310.28,1309.25 L2310.79,1308.67 L2311.31,1308.10 L2311.82,1307.54 L2312.34,1306.99 L2312.85,1306.44 L2313.36,1305.90 L2313.88,1305.37 L2314.39,1304.85 L2314.90,1304.34 L2315.42,1303.84 L2315.93,1303.34 L2316.45,1302.85 L2316.96,1302.37 L2317.47,1301.90 L2317.99,1301.44 L2318.50,1300.98 L2319.01,1300.54 L2319.53,1300.10 L2320.04,1299.67 L2320.56,1299.25 L2321.07,1298.84 L2321.58,1298.43 L2322.10,1298.04 L2322.61,1297.65 L2323.12,1297.27 L2323.64,1296.90 L2324.15,1296.54 L2324.66,1296.19 L2325.18,1295.85 L2325.69,1295.51 L2326.21,1295.18 L2326.72,1294.87 L2327.23,1294.56 L2327.75,1294.26 L2328.26,1293.97 L2328.77,1293.68 L2329.29,1293.41 L2329.80,1293.14 L2330.32,1292.89 L2330.83,1292.64 L2331.34,1292.40 L2331.86,1292.17 L2332.37,1291.95 L2332.88,1291.74 L2333.40,1291.54 L2333.91,1291.34 L2334.42,1291.16 L2334.94,1290.98 L2335.45,1290.81 L2335.97,1290.65 L2336.48,1290.50 L2336.99,1290.36 L2337.51,1290.23 L2338.02,1290.11 L2338.53,1289.99 L2339.05,1289.89 L2339.56,1289.79 L2340.08,1289.70 L2340.59,1289.63 L2341.10,1289.56 L2341.62,1289.50 L2342.13,1289.45 L2342.64,1289.40 L2343.16,1289.37 L2343.67,1289.35 L2344.19,1289.33 L2344.70,1289.33 L2345.21,1289.33 L2345.73,1289.34 L2346.24,1289.36 L2346.75,1289.39 L2347.27,1289.43 L2347.78,1289.48 L2348.29,1289.53 L2348.81,1289.60 L2349.32,1289.67 L2349.84,1289.76 L2350.35,1289.85 L2350.86,1289.95 L2351.38,1290.06 L2351.89,1290.18 L2352.40,1290.31 L2352.92,1290.45 L2353.43,1290.59 L2353.95,1290.75 L2354.46,1290.91 L2354.97,1291.09 L2355.49,1291.27 L2356.00,1291.46"/>
<text class="tk" transform="translate(184.10,821.00) scale(0.968,1)" text-anchor="middle">0</text>
<text class="tk" transform="translate(545.77,821.00) scale(0.968,1)" text-anchor="middle">5</text>
<text class="tk" transform="translate(907.43,821.00) scale(0.968,1)" text-anchor="middle">10</text>
<text class="tk" transform="translate(1269.10,821.00) scale(0.968,1)" text-anchor="middle">15</text>
<text class="tk" transform="translate(1630.77,821.00) scale(0.968,1)" text-anchor="middle">20</text>
<text class="tk" transform="translate(1992.43,821.00) scale(0.968,1)" text-anchor="middle">25</text>
<text class="tk" transform="translate(2354.10,821.00) scale(0.968,1)" text-anchor="middle">30</text>
<text class="tk" transform="translate(163.50,674.49) scale(0.968,1)" text-anchor="end">-1</text>
<text class="tk" transform="translate(163.50,496.16) scale(0.968,1)" text-anchor="end">0</text>
<text class="tk" transform="translate(163.50,317.84) scale(0.968,1)" text-anchor="end">1</text>
<text class="tk" transform="translate(163.50,139.51) scale(0.968,1)" text-anchor="end">2</text>
<text class="tk" transform="translate(184.10,1817.15) scale(0.968,1)" text-anchor="middle">0</text>
<text class="tk" transform="translate(545.77,1817.15) scale(0.968,1)" text-anchor="middle">5</text>
<text class="tk" transform="translate(907.43,1817.15) scale(0.968,1)" text-anchor="middle">10</text>
<text class="tk" transform="translate(1269.10,1817.15) scale(0.968,1)" text-anchor="middle">15</text>
<text class="tk" transform="translate(1630.77,1817.15) scale(0.968,1)" text-anchor="middle">20</text>
<text class="tk" transform="translate(1992.43,1817.15) scale(0.968,1)" text-anchor="middle">25</text>
<text class="tk" transform="translate(2354.10,1817.15) scale(0.968,1)" text-anchor="middle">30</text>
<text class="tk" transform="translate(163.50,1671.23) scale(0.968,1)" text-anchor="end">-1</text>
<text class="tk" transform="translate(163.50,1492.88) scale(0.968,1)" text-anchor="end">0</text>
<text class="tk" transform="translate(163.50,1314.53) scale(0.968,1)" text-anchor="end">1</text>
<text class="tk" transform="translate(163.50,1136.17) scale(0.968,1)" text-anchor="end">2</text>
<text class="lb" x="1270.00" y="903.95" text-anchor="middle">Time [s]</text>
<text class="lb" x="1270.00" y="1900.00" text-anchor="middle">Time [s]</text>
<text class="yl" transform="translate(81.30,382.70) rotate(-90)" text-anchor="middle">System output</text>
<text class="yl" transform="translate(81.30,1379.30) rotate(-90)" text-anchor="middle">States</text>
<rect x="2019.20" y="65.60" width="283.40" height="219.40" fill="#fff" stroke="#262626" stroke-width="3.20"/>
<path class="cv b" d="M2039.3,107.60 H2239.1"/>
<text class="lg" transform="translate(2258.00,120.60) scale(0.9500,1)" style="font-size:53.50px;font-style:italic">y</text>
<path class="cv r" stroke-dasharray="26.665 26.665" d="M2039.3,175.20 H2239.1"/>
<text class="lg" transform="translate(2258.00,188.20) scale(0.9500,1)" style="font-size:53.50px;font-style:italic">ẏ</text>
<path class="cv g" stroke-dasharray="26.665 26.665" d="M2039.3,242.80 H2239.1"/>
<text class="lg" transform="translate(2258.00,255.80) scale(0.9500,1)" style="font-size:53.50px;font-style:italic">ÿ</text>
<rect x="1555.60" y="1061.60" width="747.00" height="153.40" fill="#fff" stroke="#262626" stroke-width="3.20"/>
<path class="cv b" d="M1576,1104.20 H1776"/>
<text class="lg" transform="translate(0,1117.30) scale(1.1050,1)" style="font-size:53.50px"><tspan x="1620.45" style="letter-spacing:0.42px">External</tspan> <tspan x="1820.27" style="letter-spacing:-0.5px">dynamic</tspan> <tspan x="2020.63" style="font-style:italic">x</tspan><tspan x="2046.70" dy="7.4" style="font-size:34.6px">2</tspan></text>
<path class="cv r" stroke-dasharray="26.665 26.665" d="M1576,1171.70 H1776"/>
<text class="lg" transform="translate(0,1185.20) scale(1.1050,1)" style="font-size:53.50px"><tspan x="1620.45" style="letter-spacing:0.42px">Internal</tspan> <tspan x="1804.89" style="letter-spacing:-0.5px">dynamic</tspan> <tspan x="2004.89" style="font-style:italic">x</tspan><tspan x="2030.95" dy="7.4" style="font-size:34.6px">3</tspan></text>
</svg></body></html>
